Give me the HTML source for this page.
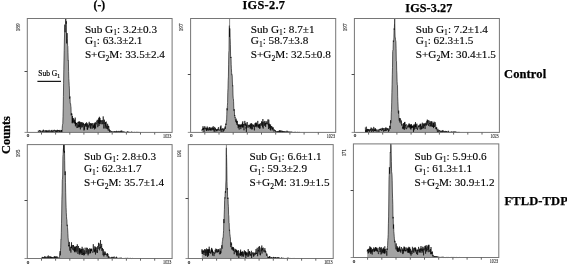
<!DOCTYPE html>
<html><head><meta charset="utf-8"><title>Cell cycle histograms</title>
<style>
html,body{margin:0;padding:0;background:#fff;}
body{width:567px;height:265px;overflow:hidden;}
svg{display:block;}
.s{font-family:"Liberation Serif","Times New Roman",serif;}
.t{stroke:#000;stroke-width:0.14px;}
.b{font-family:"Liberation Serif","Times New Roman",serif;font-weight:bold;stroke:#000;stroke-width:0.25px;}
</style></head><body>
<svg width="567" height="265" viewBox="0 0 567 265">
<rect width="567" height="265" fill="#fff"/>
<path d="M38.0 132.4 L38.0 131.4 L38.2 130.8 L38.4 131.4 L38.6 131.5 L38.8 132.0 L39.0 131.4 L39.2 130.2 L39.4 130.8 L39.6 130.3 L39.8 131.0 L40.0 130.9 L40.2 131.0 L40.4 132.2 L40.6 130.5 L40.8 130.8 L41.0 130.8 L41.2 132.2 L41.4 132.2 L41.6 132.0 L41.8 131.6 L42.0 130.9 L42.2 131.2 L42.4 130.7 L42.6 131.8 L42.8 130.9 L43.0 130.9 L43.2 131.8 L43.4 129.7 L43.6 130.7 L43.8 130.2 L44.0 131.7 L44.2 131.8 L44.4 131.5 L44.6 131.3 L44.8 130.6 L45.0 131.0 L45.2 131.6 L45.4 132.0 L45.6 131.7 L45.8 130.1 L46.0 131.9 L46.2 131.0 L46.4 130.8 L46.6 132.2 L46.8 131.2 L47.0 130.1 L47.2 132.2 L47.4 131.5 L47.6 131.3 L47.8 131.9 L48.0 130.8 L48.2 131.3 L48.4 132.2 L48.6 130.5 L48.8 130.6 L49.0 130.4 L49.2 129.9 L49.4 130.9 L49.6 131.1 L49.8 132.2 L50.0 130.7 L50.2 131.7 L50.4 131.6 L50.6 132.2 L50.8 132.0 L51.0 131.7 L51.2 130.1 L51.4 132.2 L51.6 132.2 L51.8 131.0 L52.0 129.9 L52.2 130.7 L52.4 132.2 L52.6 132.2 L52.8 130.9 L53.0 131.8 L53.2 132.2 L53.4 130.3 L53.6 130.2 L53.8 131.1 L54.0 131.0 L54.2 130.8 L54.4 129.8 L54.6 130.7 L54.8 130.7 L55.0 130.7 L55.2 132.2 L55.4 130.1 L55.6 130.4 L55.8 130.7 L56.0 132.2 L56.2 131.8 L56.4 130.5 L56.6 132.2 L56.8 131.4 L57.0 130.3 L57.2 132.2 L57.4 129.8 L57.6 130.7 L57.8 131.3 L58.0 130.9 L58.2 130.6 L58.4 131.1 L58.6 130.2 L58.8 131.8 L59.0 131.6 L59.2 130.3 L59.4 131.2 L59.6 132.0 L59.8 130.4 L60.0 129.9 L60.2 131.6 L60.4 132.2 L60.6 131.3 L60.8 131.3 L61.0 131.5 L61.2 130.0 L61.4 132.1 L61.6 130.1 L61.8 132.2 L62.0 131.7 L62.2 128.4 L62.4 125.7 L62.6 124.3 L62.8 123.6 L63.0 116.5 L63.2 108.9 L63.4 96.6 L63.6 83.3 L63.8 69.8 L64.0 59.0 L64.2 50.4 L64.4 40.0 L64.6 32.9 L64.8 24.6 L65.0 30.5 L65.2 32.3 L65.4 27.6 L65.6 18.5 L65.8 18.5 L66.0 20.3 L66.2 23.8 L66.4 21.3 L66.6 43.4 L66.8 37.9 L67.0 33.0 L67.2 33.7 L67.4 38.7 L67.6 45.6 L67.8 46.1 L68.0 52.7 L68.2 61.0 L68.4 60.7 L68.6 71.5 L68.8 78.5 L69.0 81.3 L69.2 85.4 L69.4 88.9 L69.6 98.6 L69.8 97.5 L70.0 96.5 L70.2 103.6 L70.4 103.5 L70.6 103.6 L70.8 106.2 L71.0 107.1 L71.2 115.3 L71.4 113.5 L71.6 114.6 L71.8 113.6 L72.0 113.7 L72.2 123.2 L72.4 116.0 L72.6 122.1 L72.8 117.9 L73.0 123.2 L73.2 120.0 L73.4 118.3 L73.6 121.7 L73.8 121.5 L74.0 120.6 L74.2 122.3 L74.4 123.0 L74.6 119.6 L74.8 120.9 L75.0 124.0 L75.2 117.6 L75.4 126.3 L75.6 122.0 L75.8 124.8 L76.0 124.1 L76.2 122.9 L76.4 124.0 L76.6 123.1 L76.8 127.9 L77.0 127.9 L77.2 123.3 L77.4 126.8 L77.6 126.9 L77.8 127.9 L78.0 122.0 L78.2 123.1 L78.4 121.6 L78.6 126.9 L78.8 124.9 L79.0 127.4 L79.2 123.3 L79.4 121.5 L79.6 127.0 L79.8 121.7 L80.0 123.0 L80.2 125.5 L80.4 129.4 L80.6 122.2 L80.8 125.4 L81.0 126.6 L81.2 124.5 L81.4 124.5 L81.6 122.2 L81.8 127.6 L82.0 123.1 L82.2 122.4 L82.4 122.5 L82.6 125.9 L82.8 127.1 L83.0 123.5 L83.2 125.4 L83.4 125.4 L83.6 122.8 L83.8 126.3 L84.0 130.5 L84.2 126.6 L84.4 129.6 L84.6 124.1 L84.8 125.1 L85.0 127.0 L85.2 125.8 L85.4 124.0 L85.6 125.6 L85.8 123.0 L86.0 125.8 L86.2 123.5 L86.4 122.6 L86.6 122.3 L86.8 127.1 L87.0 123.8 L87.2 129.5 L87.4 127.9 L87.6 129.7 L87.8 123.4 L88.0 128.2 L88.2 125.6 L88.4 126.0 L88.6 125.6 L88.8 126.8 L89.0 125.1 L89.2 121.8 L89.4 125.4 L89.6 124.4 L89.8 123.4 L90.0 125.9 L90.2 128.1 L90.4 126.6 L90.6 123.2 L90.8 128.9 L91.0 126.7 L91.2 123.3 L91.4 123.8 L91.6 125.4 L91.8 123.7 L92.0 125.0 L92.2 127.8 L92.4 128.6 L92.6 126.5 L92.8 123.0 L93.0 126.1 L93.2 126.8 L93.4 126.4 L93.6 128.0 L93.8 124.8 L94.0 127.0 L94.2 123.5 L94.4 129.4 L94.6 123.4 L94.8 125.4 L95.0 128.2 L95.2 122.2 L95.4 124.3 L95.6 128.5 L95.8 125.4 L96.0 122.8 L96.2 124.3 L96.4 121.5 L96.6 121.5 L96.8 121.6 L97.0 122.2 L97.2 119.9 L97.4 121.3 L97.6 121.7 L97.8 127.2 L98.0 120.6 L98.2 119.6 L98.4 123.0 L98.6 123.3 L98.8 117.9 L99.0 126.0 L99.2 121.1 L99.4 116.8 L99.6 124.1 L99.8 120.6 L100.0 117.9 L100.2 122.4 L100.4 120.9 L100.6 120.1 L100.8 124.1 L101.0 122.3 L101.2 121.5 L101.4 120.3 L101.6 122.2 L101.8 122.5 L102.0 124.3 L102.2 122.9 L102.4 120.1 L102.6 121.9 L102.8 124.0 L103.0 124.0 L103.2 116.4 L103.4 120.0 L103.6 121.2 L103.8 128.5 L104.0 121.7 L104.2 122.1 L104.4 119.7 L104.6 122.6 L104.8 123.9 L105.0 122.8 L105.2 128.4 L105.4 122.0 L105.6 123.8 L105.8 126.4 L106.0 122.3 L106.2 121.6 L106.4 128.6 L106.6 127.4 L106.8 125.8 L107.0 126.3 L107.2 127.7 L107.4 129.0 L107.6 123.8 L107.8 126.0 L108.0 130.0 L108.2 130.5 L108.4 125.8 L108.6 127.3 L108.8 126.3 L109.0 128.1 L109.2 130.7 L109.4 129.4 L109.6 132.4 L109.8 131.1 L110.0 130.5 L110.2 130.1 L110.4 131.6 L110.6 131.3 L110.8 131.0 L111.0 131.3 L111.2 131.2 L111.4 131.5 L111.6 131.9 L111.8 131.1 L112.0 131.6 L112.2 132.2 L112.4 132.1 L112.6 131.7 L112.8 131.7 L113.0 131.6 L113.2 131.7 L113.4 131.6 L113.6 131.8 L113.8 132.4 L114.0 131.4 L114.2 131.0 L114.4 131.4 L114.6 131.9 L114.8 131.4 L115.0 132.4 L115.2 132.4 L115.4 131.7 L115.6 132.4 L115.8 131.3 L116.0 132.4 L116.2 132.4 L116.4 132.4 L116.6 130.8 L116.8 132.0 L117.0 132.4 L117.2 132.3 L117.4 131.5 L117.6 131.5 L117.8 131.7 L118.0 131.0 L118.2 131.4 L118.4 131.9 L118.6 131.5 L118.8 130.9 L119.0 131.3 L119.2 131.3 L119.4 132.4 L119.6 132.0 L119.8 131.5 L120.0 132.1 L120.2 131.3 L120.4 131.6 L120.6 131.5 L120.8 132.1 L121.0 130.6 L121.2 131.3 L121.4 132.1 L121.6 131.9 L121.8 130.6 L122.0 132.2 L122.2 131.6 L122.4 131.5 L122.6 132.0 L122.8 132.4 L123.0 131.9 L123.2 131.9 L123.4 131.5 L123.6 131.7 L123.8 132.0 L124.0 131.7 L124.2 131.8 L124.4 132.0 L124.6 132.1 L124.8 132.2 L125.0 131.8 L125.2 132.4 L125.4 132.4 L125.6 132.1 L125.8 132.4 L126.0 132.3 L126.2 132.4 L126.4 132.4 L126.6 131.9 L126.8 131.9 L127.0 132.2 L127.2 132.2 L127.4 132.4 L127.6 131.4 L127.8 132.0 L128.0 131.7 L128.2 132.4 L128.4 132.2 L128.6 132.4 L128.8 131.9 L129.0 131.8 L129.2 132.4 L129.4 132.2 L129.6 132.0 L129.8 132.4 L130.0 132.4 L130.2 132.4 L130.4 132.4 L130.6 132.4 L130.8 132.2 L131.0 132.1 L131.2 132.0 L131.4 132.0 L131.6 131.7 L131.8 131.9 L132.0 132.4 L132.2 132.4 L132.4 132.4 L132.6 132.4 L132.8 132.3 L133.0 132.3 L133.2 132.1 L133.4 132.4 L133.6 132.4 L133.8 132.3 L134.0 132.3 L134.2 132.4 L134.4 132.3 L134.6 132.4 L134.8 132.1 L135.0 132.2 L135.2 132.3 L135.4 132.4 L135.6 132.4 L135.8 132.4 L136.0 132.4 L136.2 132.3 L136.4 132.4 L136.6 132.3 L136.8 132.3 L137.0 132.4 L137.2 132.4 L137.4 132.4 L137.6 132.3 L137.8 132.3 L138.0 132.4 L138.2 132.4 L138.4 132.4 L138.6 132.4 L138.8 132.3 L139.0 132.3 L139.2 132.4 L139.4 132.4 L139.6 132.4 L139.8 132.4 L139.8 132.4 Z" fill="#a3a3a3" stroke="none"/>
<path d="M38.0 131.4 L38.2 130.8 L38.4 131.4 L38.6 131.5 L38.8 132.0 L39.0 131.4 L39.2 130.2 L39.4 130.8 L39.6 130.3 L39.8 131.0 L40.0 130.9 L40.2 131.0 L40.4 132.2 L40.6 130.5 L40.8 130.8 L41.0 130.8 L41.2 132.2 L41.4 132.2 L41.6 132.0 L41.8 131.6 L42.0 130.9 L42.2 131.2 L42.4 130.7 L42.6 131.8 L42.8 130.9 L43.0 130.9 L43.2 131.8 L43.4 129.7 L43.6 130.7 L43.8 130.2 L44.0 131.7 L44.2 131.8 L44.4 131.5 L44.6 131.3 L44.8 130.6 L45.0 131.0 L45.2 131.6 L45.4 132.0 L45.6 131.7 L45.8 130.1 L46.0 131.9 L46.2 131.0 L46.4 130.8 L46.6 132.2 L46.8 131.2 L47.0 130.1 L47.2 132.2 L47.4 131.5 L47.6 131.3 L47.8 131.9 L48.0 130.8 L48.2 131.3 L48.4 132.2 L48.6 130.5 L48.8 130.6 L49.0 130.4 L49.2 129.9 L49.4 130.9 L49.6 131.1 L49.8 132.2 L50.0 130.7 L50.2 131.7 L50.4 131.6 L50.6 132.2 L50.8 132.0 L51.0 131.7 L51.2 130.1 L51.4 132.2 L51.6 132.2 L51.8 131.0 L52.0 129.9 L52.2 130.7 L52.4 132.2 L52.6 132.2 L52.8 130.9 L53.0 131.8 L53.2 132.2 L53.4 130.3 L53.6 130.2 L53.8 131.1 L54.0 131.0 L54.2 130.8 L54.4 129.8 L54.6 130.7 L54.8 130.7 L55.0 130.7 L55.2 132.2 L55.4 130.1 L55.6 130.4 L55.8 130.7 L56.0 132.2 L56.2 131.8 L56.4 130.5 L56.6 132.2 L56.8 131.4 L57.0 130.3 L57.2 132.2 L57.4 129.8 L57.6 130.7 L57.8 131.3 L58.0 130.9 L58.2 130.6 L58.4 131.1 L58.6 130.2 L58.8 131.8 L59.0 131.6 L59.2 130.3 L59.4 131.2 L59.6 132.0 L59.8 130.4 L60.0 129.9 L60.2 131.6 L60.4 132.2 L60.6 131.3 L60.8 131.3 L61.0 131.5 L61.2 130.0 L61.4 132.1 L61.6 130.1 L61.8 132.2 L62.0 131.7 L62.2 128.4 L62.4 125.7 L62.6 124.3 L62.8 123.6 L63.0 116.5 L63.2 108.9 L63.4 96.6 L63.6 83.3 L63.8 69.8 L64.0 59.0 L64.2 50.4 L64.4 40.0 L64.6 32.9 L64.8 24.6 L65.0 30.5 L65.2 32.3 L65.4 27.6 L65.6 18.5 L65.8 18.5 L66.0 20.3 L66.2 23.8 L66.4 21.3 L66.6 43.4 L66.8 37.9 L67.0 33.0 L67.2 33.7 L67.4 38.7 L67.6 45.6 L67.8 46.1 L68.0 52.7 L68.2 61.0 L68.4 60.7 L68.6 71.5 L68.8 78.5 L69.0 81.3 L69.2 85.4 L69.4 88.9 L69.6 98.6 L69.8 97.5 L70.0 96.5 L70.2 103.6 L70.4 103.5 L70.6 103.6 L70.8 106.2 L71.0 107.1 L71.2 115.3 L71.4 113.5 L71.6 114.6 L71.8 113.6 L72.0 113.7 L72.2 123.2 L72.4 116.0 L72.6 122.1 L72.8 117.9 L73.0 123.2 L73.2 120.0 L73.4 118.3 L73.6 121.7 L73.8 121.5 L74.0 120.6 L74.2 122.3 L74.4 123.0 L74.6 119.6 L74.8 120.9 L75.0 124.0 L75.2 117.6 L75.4 126.3 L75.6 122.0 L75.8 124.8 L76.0 124.1 L76.2 122.9 L76.4 124.0 L76.6 123.1 L76.8 127.9 L77.0 127.9 L77.2 123.3 L77.4 126.8 L77.6 126.9 L77.8 127.9 L78.0 122.0 L78.2 123.1 L78.4 121.6 L78.6 126.9 L78.8 124.9 L79.0 127.4 L79.2 123.3 L79.4 121.5 L79.6 127.0 L79.8 121.7 L80.0 123.0 L80.2 125.5 L80.4 129.4 L80.6 122.2 L80.8 125.4 L81.0 126.6 L81.2 124.5 L81.4 124.5 L81.6 122.2 L81.8 127.6 L82.0 123.1 L82.2 122.4 L82.4 122.5 L82.6 125.9 L82.8 127.1 L83.0 123.5 L83.2 125.4 L83.4 125.4 L83.6 122.8 L83.8 126.3 L84.0 130.5 L84.2 126.6 L84.4 129.6 L84.6 124.1 L84.8 125.1 L85.0 127.0 L85.2 125.8 L85.4 124.0 L85.6 125.6 L85.8 123.0 L86.0 125.8 L86.2 123.5 L86.4 122.6 L86.6 122.3 L86.8 127.1 L87.0 123.8 L87.2 129.5 L87.4 127.9 L87.6 129.7 L87.8 123.4 L88.0 128.2 L88.2 125.6 L88.4 126.0 L88.6 125.6 L88.8 126.8 L89.0 125.1 L89.2 121.8 L89.4 125.4 L89.6 124.4 L89.8 123.4 L90.0 125.9 L90.2 128.1 L90.4 126.6 L90.6 123.2 L90.8 128.9 L91.0 126.7 L91.2 123.3 L91.4 123.8 L91.6 125.4 L91.8 123.7 L92.0 125.0 L92.2 127.8 L92.4 128.6 L92.6 126.5 L92.8 123.0 L93.0 126.1 L93.2 126.8 L93.4 126.4 L93.6 128.0 L93.8 124.8 L94.0 127.0 L94.2 123.5 L94.4 129.4 L94.6 123.4 L94.8 125.4 L95.0 128.2 L95.2 122.2 L95.4 124.3 L95.6 128.5 L95.8 125.4 L96.0 122.8 L96.2 124.3 L96.4 121.5 L96.6 121.5 L96.8 121.6 L97.0 122.2 L97.2 119.9 L97.4 121.3 L97.6 121.7 L97.8 127.2 L98.0 120.6 L98.2 119.6 L98.4 123.0 L98.6 123.3 L98.8 117.9 L99.0 126.0 L99.2 121.1 L99.4 116.8 L99.6 124.1 L99.8 120.6 L100.0 117.9 L100.2 122.4 L100.4 120.9 L100.6 120.1 L100.8 124.1 L101.0 122.3 L101.2 121.5 L101.4 120.3 L101.6 122.2 L101.8 122.5 L102.0 124.3 L102.2 122.9 L102.4 120.1 L102.6 121.9 L102.8 124.0 L103.0 124.0 L103.2 116.4 L103.4 120.0 L103.6 121.2 L103.8 128.5 L104.0 121.7 L104.2 122.1 L104.4 119.7 L104.6 122.6 L104.8 123.9 L105.0 122.8 L105.2 128.4 L105.4 122.0 L105.6 123.8 L105.8 126.4 L106.0 122.3 L106.2 121.6 L106.4 128.6 L106.6 127.4 L106.8 125.8 L107.0 126.3 L107.2 127.7 L107.4 129.0 L107.6 123.8 L107.8 126.0 L108.0 130.0 L108.2 130.5 L108.4 125.8 L108.6 127.3 L108.8 126.3 L109.0 128.1 L109.2 130.7 L109.4 129.4 L109.6 132.4 L109.8 131.1 L110.0 130.5 L110.2 130.1 L110.4 131.6 L110.6 131.3 L110.8 131.0 L111.0 131.3 L111.2 131.2 L111.4 131.5 L111.6 131.9 L111.8 131.1 L112.0 131.6 L112.2 132.2 L112.4 132.1 L112.6 131.7 L112.8 131.7 L113.0 131.6 L113.2 131.7 L113.4 131.6 L113.6 131.8 L113.8 132.4 L114.0 131.4 L114.2 131.0 L114.4 131.4 L114.6 131.9 L114.8 131.4 L115.0 132.4 L115.2 132.4 L115.4 131.7 L115.6 132.4 L115.8 131.3 L116.0 132.4 L116.2 132.4 L116.4 132.4 L116.6 130.8 L116.8 132.0 L117.0 132.4 L117.2 132.3 L117.4 131.5 L117.6 131.5 L117.8 131.7 L118.0 131.0 L118.2 131.4 L118.4 131.9 L118.6 131.5 L118.8 130.9 L119.0 131.3 L119.2 131.3 L119.4 132.4 L119.6 132.0 L119.8 131.5 L120.0 132.1 L120.2 131.3 L120.4 131.6 L120.6 131.5 L120.8 132.1 L121.0 130.6 L121.2 131.3 L121.4 132.1 L121.6 131.9 L121.8 130.6 L122.0 132.2 L122.2 131.6 L122.4 131.5 L122.6 132.0 L122.8 132.4 L123.0 131.9 L123.2 131.9 L123.4 131.5 L123.6 131.7 L123.8 132.0 L124.0 131.7 L124.2 131.8 L124.4 132.0 L124.6 132.1 L124.8 132.2 L125.0 131.8 L125.2 132.4 L125.4 132.4 L125.6 132.1 L125.8 132.4 L126.0 132.3 L126.2 132.4 L126.4 132.4 L126.6 131.9 L126.8 131.9 L127.0 132.2 L127.2 132.2 L127.4 132.4 L127.6 131.4 L127.8 132.0 L128.0 131.7 L128.2 132.4 L128.4 132.2 L128.6 132.4 L128.8 131.9 L129.0 131.8 L129.2 132.4 L129.4 132.2 L129.6 132.0 L129.8 132.4 L130.0 132.4 L130.2 132.4 L130.4 132.4 L130.6 132.4 L130.8 132.2 L131.0 132.1 L131.2 132.0 L131.4 132.0 L131.6 131.7 L131.8 131.9 L132.0 132.4 L132.2 132.4 L132.4 132.4 L132.6 132.4 L132.8 132.3 L133.0 132.3 L133.2 132.1 L133.4 132.4 L133.6 132.4 L133.8 132.3 L134.0 132.3 L134.2 132.4 L134.4 132.3 L134.6 132.4 L134.8 132.1 L135.0 132.2 L135.2 132.3 L135.4 132.4 L135.6 132.4 L135.8 132.4 L136.0 132.4 L136.2 132.3 L136.4 132.4 L136.6 132.3 L136.8 132.3 L137.0 132.4 L137.2 132.4 L137.4 132.4 L137.6 132.3 L137.8 132.3 L138.0 132.4 L138.2 132.4 L138.4 132.4 L138.6 132.4 L138.8 132.3 L139.0 132.3 L139.2 132.4 L139.4 132.4 L139.6 132.4 L139.8 132.4" fill="none" stroke="#000" stroke-width="0.6" stroke-linejoin="round"/>
<rect x="27.3" y="18.5" width="144.79999999999998" height="113.9" fill="none" stroke="#767676" stroke-width="1"/>
<line x1="41.5" y1="132.4" x2="41.5" y2="134.6" stroke="#555" stroke-width="0.9"/>
<line x1="55.6" y1="132.4" x2="55.6" y2="134.6" stroke="#555" stroke-width="0.9"/>
<line x1="69.8" y1="132.4" x2="69.8" y2="134.6" stroke="#555" stroke-width="0.9"/>
<line x1="83.9" y1="132.4" x2="83.9" y2="134.6" stroke="#555" stroke-width="0.9"/>
<line x1="98.1" y1="132.4" x2="98.1" y2="134.6" stroke="#555" stroke-width="0.9"/>
<line x1="112.2" y1="132.4" x2="112.2" y2="134.6" stroke="#555" stroke-width="0.9"/>
<line x1="126.4" y1="132.4" x2="126.4" y2="134.6" stroke="#555" stroke-width="0.9"/>
<line x1="140.5" y1="132.4" x2="140.5" y2="134.6" stroke="#555" stroke-width="0.9"/>
<line x1="154.7" y1="132.4" x2="154.7" y2="134.6" stroke="#555" stroke-width="0.9"/>
<line x1="24.5" y1="71.5" x2="27.3" y2="71.5" stroke="#4a4a4a" stroke-width="1"/>
<line x1="24.5" y1="132.4" x2="27.3" y2="132.4" stroke="#767676" stroke-width="0.8"/>
<text x="26.7" y="137.4" font-size="5.0" fill="#222" stroke="#222" stroke-width="0.2" class="s">0</text>
<text x="163.1" y="137.6" font-size="5.8" fill="#222" stroke="#222" stroke-width="0.1" textLength="8.3" lengthAdjust="spacingAndGlyphs" class="s">1023</text>
<text transform="translate(19.8 31.4) rotate(-90)" font-size="6.8" fill="#2a2a2a" stroke="#2a2a2a" stroke-width="0.12" textLength="8.0" lengthAdjust="spacingAndGlyphs" class="s">189</text>
<text x="84.89999999999999" y="32.9" font-size="11.2" class="s t">Sub G<tspan font-size="7.6" dy="2.3">1</tspan><tspan dy="-2.3">: 3.2±0.3</tspan></text>
<text x="84.89999999999999" y="44.2" font-size="11.2" class="s t">G<tspan font-size="7.6" dy="2.7">1</tspan><tspan dy="-2.7">: 63.3±2.1</tspan></text>
<text x="84.89999999999999" y="58.2" font-size="11.2" class="s t">S+G<tspan font-size="7.6" dy="2.7">2</tspan><tspan dy="-2.7">M: 33.5±2.4</tspan></text>
<path d="M201.8 132.4 L201.8 130.9 L202.0 129.6 L202.2 130.1 L202.4 129.3 L202.6 128.7 L202.8 130.0 L203.0 126.2 L203.2 129.8 L203.4 127.9 L203.6 129.2 L203.8 127.9 L204.0 132.2 L204.2 130.4 L204.4 129.1 L204.6 128.6 L204.8 126.2 L205.0 129.0 L205.2 127.6 L205.4 128.3 L205.6 128.1 L205.8 128.7 L206.0 129.6 L206.2 128.7 L206.4 130.9 L206.6 127.8 L206.8 130.8 L207.0 129.1 L207.2 126.5 L207.4 129.7 L207.6 129.4 L207.8 127.8 L208.0 129.4 L208.2 130.5 L208.4 129.0 L208.6 128.6 L208.8 128.4 L209.0 130.5 L209.2 127.0 L209.4 127.1 L209.6 129.4 L209.8 129.0 L210.0 130.0 L210.2 127.4 L210.4 130.4 L210.6 128.5 L210.8 130.1 L211.0 130.4 L211.2 128.4 L211.4 127.6 L211.6 129.4 L211.8 130.3 L212.0 128.3 L212.2 129.5 L212.4 129.0 L212.6 127.3 L212.8 127.8 L213.0 130.1 L213.2 126.2 L213.4 129.4 L213.6 128.3 L213.8 130.3 L214.0 129.5 L214.2 131.8 L214.4 126.9 L214.6 127.5 L214.8 131.1 L215.0 131.5 L215.2 131.6 L215.4 127.8 L215.6 130.0 L215.8 129.5 L216.0 129.8 L216.2 129.6 L216.4 130.9 L216.6 129.4 L216.8 131.4 L217.0 129.5 L217.2 129.0 L217.4 128.8 L217.6 129.7 L217.8 130.7 L218.0 129.2 L218.2 130.1 L218.4 127.2 L218.6 128.3 L218.8 129.6 L219.0 130.1 L219.2 130.4 L219.4 130.7 L219.6 129.9 L219.8 129.0 L220.0 128.7 L220.2 128.6 L220.4 126.5 L220.6 130.4 L220.8 129.4 L221.0 125.5 L221.2 132.0 L221.4 130.1 L221.6 129.2 L221.8 129.2 L222.0 128.8 L222.2 129.7 L222.4 128.9 L222.6 129.3 L222.8 128.3 L223.0 132.0 L223.2 130.6 L223.4 129.4 L223.6 130.8 L223.8 130.8 L224.0 128.5 L224.2 130.3 L224.4 128.5 L224.6 128.4 L224.8 127.7 L225.0 126.6 L225.2 126.9 L225.4 128.9 L225.6 125.4 L225.8 123.6 L226.0 125.0 L226.2 123.3 L226.4 120.8 L226.6 121.0 L226.8 114.3 L227.0 108.3 L227.2 110.3 L227.4 105.4 L227.6 102.7 L227.8 92.3 L228.0 88.2 L228.2 80.2 L228.4 76.9 L228.6 64.2 L228.8 53.0 L229.0 50.4 L229.2 30.8 L229.4 25.6 L229.6 36.9 L229.8 28.4 L230.0 36.1 L230.2 38.5 L230.4 44.7 L230.6 56.3 L230.8 58.0 L231.0 56.9 L231.2 64.7 L231.4 68.7 L231.6 72.4 L231.8 75.1 L232.0 74.7 L232.2 75.5 L232.4 82.0 L232.6 86.2 L232.8 85.6 L233.0 95.0 L233.2 98.4 L233.4 98.7 L233.6 101.7 L233.8 108.1 L234.0 110.8 L234.2 109.2 L234.4 110.9 L234.6 116.0 L234.8 115.2 L235.0 117.5 L235.2 117.0 L235.4 119.8 L235.6 120.8 L235.8 121.8 L236.0 119.1 L236.2 118.7 L236.4 123.0 L236.6 120.7 L236.8 124.7 L237.0 123.2 L237.2 122.2 L237.4 120.9 L237.6 125.3 L237.8 124.7 L238.0 124.3 L238.2 128.1 L238.4 124.9 L238.6 126.5 L238.8 124.4 L239.0 127.7 L239.2 129.6 L239.4 125.5 L239.6 125.1 L239.8 126.9 L240.0 124.1 L240.2 126.5 L240.4 127.2 L240.6 125.0 L240.8 129.1 L241.0 127.3 L241.2 126.0 L241.4 124.2 L241.6 126.3 L241.8 125.4 L242.0 127.3 L242.2 125.4 L242.4 122.7 L242.6 127.4 L242.8 121.3 L243.0 127.3 L243.2 126.0 L243.4 125.7 L243.6 124.0 L243.8 128.6 L244.0 130.3 L244.2 124.9 L244.4 124.5 L244.6 124.9 L244.8 120.9 L245.0 125.7 L245.2 125.7 L245.4 124.3 L245.6 125.4 L245.8 122.9 L246.0 128.7 L246.2 127.0 L246.4 132.4 L246.6 124.6 L246.8 127.0 L247.0 124.4 L247.2 122.0 L247.4 126.3 L247.6 126.8 L247.8 127.3 L248.0 128.0 L248.2 127.6 L248.4 125.1 L248.6 126.3 L248.8 126.2 L249.0 126.7 L249.2 124.6 L249.4 125.4 L249.6 126.7 L249.8 125.1 L250.0 126.7 L250.2 128.6 L250.4 123.5 L250.6 125.4 L250.8 128.2 L251.0 124.2 L251.2 125.6 L251.4 129.4 L251.6 123.1 L251.8 125.6 L252.0 124.5 L252.2 125.8 L252.4 126.5 L252.6 129.3 L252.8 124.3 L253.0 126.1 L253.2 126.7 L253.4 125.4 L253.6 126.0 L253.8 124.8 L254.0 126.8 L254.2 126.2 L254.4 130.4 L254.6 126.9 L254.8 124.7 L255.0 123.3 L255.2 126.7 L255.4 126.2 L255.6 122.8 L255.8 126.6 L256.0 124.5 L256.2 122.5 L256.4 125.8 L256.6 123.4 L256.8 127.3 L257.0 125.5 L257.2 126.0 L257.4 125.6 L257.6 123.5 L257.8 120.9 L258.0 127.2 L258.2 126.9 L258.4 124.7 L258.6 127.8 L258.8 124.5 L259.0 124.3 L259.2 126.0 L259.4 124.3 L259.6 128.6 L259.8 123.7 L260.0 128.5 L260.2 126.7 L260.4 126.3 L260.6 125.9 L260.8 123.1 L261.0 124.8 L261.2 125.8 L261.4 123.7 L261.6 121.3 L261.8 124.7 L262.0 123.9 L262.2 121.9 L262.4 124.0 L262.6 127.3 L262.8 119.0 L263.0 119.5 L263.2 128.6 L263.4 124.2 L263.6 123.1 L263.8 121.7 L264.0 122.2 L264.2 124.2 L264.4 125.7 L264.6 123.1 L264.8 120.9 L265.0 125.4 L265.2 125.1 L265.4 122.8 L265.6 126.9 L265.8 123.0 L266.0 123.3 L266.2 121.2 L266.4 123.7 L266.6 124.2 L266.8 123.3 L267.0 122.6 L267.2 124.1 L267.4 122.7 L267.6 121.2 L267.8 120.4 L268.0 119.4 L268.2 124.9 L268.4 124.3 L268.6 129.0 L268.8 119.7 L269.0 125.8 L269.2 124.6 L269.4 123.7 L269.6 128.1 L269.8 124.5 L270.0 125.9 L270.2 129.8 L270.4 125.9 L270.6 124.5 L270.8 130.5 L271.0 126.0 L271.2 127.2 L271.4 127.0 L271.6 127.3 L271.8 126.1 L272.0 128.8 L272.2 127.2 L272.4 129.4 L272.6 127.9 L272.8 130.4 L273.0 129.6 L273.2 127.3 L273.4 129.2 L273.6 130.2 L273.8 131.5 L274.0 131.2 L274.2 130.2 L274.4 129.5 L274.6 130.3 L274.8 130.3 L275.0 131.0 L275.2 130.0 L275.4 131.6 L275.6 131.9 L275.8 131.0 L276.0 131.6 L276.2 131.8 L276.4 132.0 L276.6 131.8 L276.8 131.2 L277.0 131.4 L277.2 132.4 L277.4 131.4 L277.6 131.5 L277.8 132.4 L278.0 131.2 L278.2 131.9 L278.4 131.9 L278.6 131.2 L278.8 130.8 L279.0 132.2 L279.2 131.4 L279.4 132.3 L279.6 130.2 L279.8 132.1 L280.0 131.0 L280.2 132.2 L280.4 131.2 L280.6 130.4 L280.8 132.4 L281.0 132.1 L281.2 131.5 L281.4 131.9 L281.6 132.2 L281.8 130.5 L282.0 131.8 L282.2 132.4 L282.4 131.3 L282.6 132.4 L282.8 131.2 L283.0 132.2 L283.2 131.8 L283.4 131.1 L283.6 131.8 L283.8 132.4 L284.0 132.4 L284.2 131.2 L284.4 131.5 L284.6 132.4 L284.8 131.4 L285.0 131.6 L285.2 131.6 L285.4 132.4 L285.6 132.1 L285.8 131.5 L286.0 131.6 L286.2 131.5 L286.4 132.4 L286.6 131.9 L286.8 131.7 L287.0 130.7 L287.2 132.4 L287.4 132.2 L287.6 132.0 L287.8 131.6 L288.0 132.2 L288.2 131.5 L288.4 132.4 L288.6 131.9 L288.8 132.3 L289.0 132.0 L289.2 132.4 L289.4 132.4 L289.6 131.6 L289.8 132.0 L290.0 132.3 L290.2 132.0 L290.4 131.7 L290.6 132.4 L290.8 132.2 L291.0 131.9 L291.2 131.9 L291.4 132.3 L291.6 132.4 L291.8 131.7 L292.0 132.0 L292.2 132.2 L292.4 132.3 L292.6 132.1 L292.8 132.3 L293.0 132.4 L293.2 132.4 L293.4 132.4 L293.6 132.4 L293.8 132.4 L294.0 132.0 L294.2 132.4 L294.4 132.0 L294.6 132.4 L294.8 132.1 L295.0 131.8 L295.2 132.2 L295.4 132.4 L295.6 132.3 L295.8 132.2 L296.0 132.4 L296.2 132.4 L296.4 132.2 L296.6 132.4 L296.8 132.3 L297.0 132.1 L297.2 132.1 L297.4 132.1 L297.6 132.2 L297.8 132.4 L298.0 132.3 L298.2 132.4 L298.4 132.4 L298.6 132.4 L298.8 132.4 L299.0 132.4 L299.2 132.4 L299.4 132.4 L299.6 132.4 L299.8 132.3 L300.0 132.4 L300.0 132.4 Z" fill="#a3a3a3" stroke="none"/>
<path d="M201.8 130.9 L202.0 129.6 L202.2 130.1 L202.4 129.3 L202.6 128.7 L202.8 130.0 L203.0 126.2 L203.2 129.8 L203.4 127.9 L203.6 129.2 L203.8 127.9 L204.0 132.2 L204.2 130.4 L204.4 129.1 L204.6 128.6 L204.8 126.2 L205.0 129.0 L205.2 127.6 L205.4 128.3 L205.6 128.1 L205.8 128.7 L206.0 129.6 L206.2 128.7 L206.4 130.9 L206.6 127.8 L206.8 130.8 L207.0 129.1 L207.2 126.5 L207.4 129.7 L207.6 129.4 L207.8 127.8 L208.0 129.4 L208.2 130.5 L208.4 129.0 L208.6 128.6 L208.8 128.4 L209.0 130.5 L209.2 127.0 L209.4 127.1 L209.6 129.4 L209.8 129.0 L210.0 130.0 L210.2 127.4 L210.4 130.4 L210.6 128.5 L210.8 130.1 L211.0 130.4 L211.2 128.4 L211.4 127.6 L211.6 129.4 L211.8 130.3 L212.0 128.3 L212.2 129.5 L212.4 129.0 L212.6 127.3 L212.8 127.8 L213.0 130.1 L213.2 126.2 L213.4 129.4 L213.6 128.3 L213.8 130.3 L214.0 129.5 L214.2 131.8 L214.4 126.9 L214.6 127.5 L214.8 131.1 L215.0 131.5 L215.2 131.6 L215.4 127.8 L215.6 130.0 L215.8 129.5 L216.0 129.8 L216.2 129.6 L216.4 130.9 L216.6 129.4 L216.8 131.4 L217.0 129.5 L217.2 129.0 L217.4 128.8 L217.6 129.7 L217.8 130.7 L218.0 129.2 L218.2 130.1 L218.4 127.2 L218.6 128.3 L218.8 129.6 L219.0 130.1 L219.2 130.4 L219.4 130.7 L219.6 129.9 L219.8 129.0 L220.0 128.7 L220.2 128.6 L220.4 126.5 L220.6 130.4 L220.8 129.4 L221.0 125.5 L221.2 132.0 L221.4 130.1 L221.6 129.2 L221.8 129.2 L222.0 128.8 L222.2 129.7 L222.4 128.9 L222.6 129.3 L222.8 128.3 L223.0 132.0 L223.2 130.6 L223.4 129.4 L223.6 130.8 L223.8 130.8 L224.0 128.5 L224.2 130.3 L224.4 128.5 L224.6 128.4 L224.8 127.7 L225.0 126.6 L225.2 126.9 L225.4 128.9 L225.6 125.4 L225.8 123.6 L226.0 125.0 L226.2 123.3 L226.4 120.8 L226.6 121.0 L226.8 114.3 L227.0 108.3 L227.2 110.3 L227.4 105.4 L227.6 102.7 L227.8 92.3 L228.0 88.2 L228.2 80.2 L228.4 76.9 L228.6 64.2 L228.8 53.0 L229.0 50.4 L229.2 30.8 L229.4 25.6 L229.6 36.9 L229.8 28.4 L230.0 36.1 L230.2 38.5 L230.4 44.7 L230.6 56.3 L230.8 58.0 L231.0 56.9 L231.2 64.7 L231.4 68.7 L231.6 72.4 L231.8 75.1 L232.0 74.7 L232.2 75.5 L232.4 82.0 L232.6 86.2 L232.8 85.6 L233.0 95.0 L233.2 98.4 L233.4 98.7 L233.6 101.7 L233.8 108.1 L234.0 110.8 L234.2 109.2 L234.4 110.9 L234.6 116.0 L234.8 115.2 L235.0 117.5 L235.2 117.0 L235.4 119.8 L235.6 120.8 L235.8 121.8 L236.0 119.1 L236.2 118.7 L236.4 123.0 L236.6 120.7 L236.8 124.7 L237.0 123.2 L237.2 122.2 L237.4 120.9 L237.6 125.3 L237.8 124.7 L238.0 124.3 L238.2 128.1 L238.4 124.9 L238.6 126.5 L238.8 124.4 L239.0 127.7 L239.2 129.6 L239.4 125.5 L239.6 125.1 L239.8 126.9 L240.0 124.1 L240.2 126.5 L240.4 127.2 L240.6 125.0 L240.8 129.1 L241.0 127.3 L241.2 126.0 L241.4 124.2 L241.6 126.3 L241.8 125.4 L242.0 127.3 L242.2 125.4 L242.4 122.7 L242.6 127.4 L242.8 121.3 L243.0 127.3 L243.2 126.0 L243.4 125.7 L243.6 124.0 L243.8 128.6 L244.0 130.3 L244.2 124.9 L244.4 124.5 L244.6 124.9 L244.8 120.9 L245.0 125.7 L245.2 125.7 L245.4 124.3 L245.6 125.4 L245.8 122.9 L246.0 128.7 L246.2 127.0 L246.4 132.4 L246.6 124.6 L246.8 127.0 L247.0 124.4 L247.2 122.0 L247.4 126.3 L247.6 126.8 L247.8 127.3 L248.0 128.0 L248.2 127.6 L248.4 125.1 L248.6 126.3 L248.8 126.2 L249.0 126.7 L249.2 124.6 L249.4 125.4 L249.6 126.7 L249.8 125.1 L250.0 126.7 L250.2 128.6 L250.4 123.5 L250.6 125.4 L250.8 128.2 L251.0 124.2 L251.2 125.6 L251.4 129.4 L251.6 123.1 L251.8 125.6 L252.0 124.5 L252.2 125.8 L252.4 126.5 L252.6 129.3 L252.8 124.3 L253.0 126.1 L253.2 126.7 L253.4 125.4 L253.6 126.0 L253.8 124.8 L254.0 126.8 L254.2 126.2 L254.4 130.4 L254.6 126.9 L254.8 124.7 L255.0 123.3 L255.2 126.7 L255.4 126.2 L255.6 122.8 L255.8 126.6 L256.0 124.5 L256.2 122.5 L256.4 125.8 L256.6 123.4 L256.8 127.3 L257.0 125.5 L257.2 126.0 L257.4 125.6 L257.6 123.5 L257.8 120.9 L258.0 127.2 L258.2 126.9 L258.4 124.7 L258.6 127.8 L258.8 124.5 L259.0 124.3 L259.2 126.0 L259.4 124.3 L259.6 128.6 L259.8 123.7 L260.0 128.5 L260.2 126.7 L260.4 126.3 L260.6 125.9 L260.8 123.1 L261.0 124.8 L261.2 125.8 L261.4 123.7 L261.6 121.3 L261.8 124.7 L262.0 123.9 L262.2 121.9 L262.4 124.0 L262.6 127.3 L262.8 119.0 L263.0 119.5 L263.2 128.6 L263.4 124.2 L263.6 123.1 L263.8 121.7 L264.0 122.2 L264.2 124.2 L264.4 125.7 L264.6 123.1 L264.8 120.9 L265.0 125.4 L265.2 125.1 L265.4 122.8 L265.6 126.9 L265.8 123.0 L266.0 123.3 L266.2 121.2 L266.4 123.7 L266.6 124.2 L266.8 123.3 L267.0 122.6 L267.2 124.1 L267.4 122.7 L267.6 121.2 L267.8 120.4 L268.0 119.4 L268.2 124.9 L268.4 124.3 L268.6 129.0 L268.8 119.7 L269.0 125.8 L269.2 124.6 L269.4 123.7 L269.6 128.1 L269.8 124.5 L270.0 125.9 L270.2 129.8 L270.4 125.9 L270.6 124.5 L270.8 130.5 L271.0 126.0 L271.2 127.2 L271.4 127.0 L271.6 127.3 L271.8 126.1 L272.0 128.8 L272.2 127.2 L272.4 129.4 L272.6 127.9 L272.8 130.4 L273.0 129.6 L273.2 127.3 L273.4 129.2 L273.6 130.2 L273.8 131.5 L274.0 131.2 L274.2 130.2 L274.4 129.5 L274.6 130.3 L274.8 130.3 L275.0 131.0 L275.2 130.0 L275.4 131.6 L275.6 131.9 L275.8 131.0 L276.0 131.6 L276.2 131.8 L276.4 132.0 L276.6 131.8 L276.8 131.2 L277.0 131.4 L277.2 132.4 L277.4 131.4 L277.6 131.5 L277.8 132.4 L278.0 131.2 L278.2 131.9 L278.4 131.9 L278.6 131.2 L278.8 130.8 L279.0 132.2 L279.2 131.4 L279.4 132.3 L279.6 130.2 L279.8 132.1 L280.0 131.0 L280.2 132.2 L280.4 131.2 L280.6 130.4 L280.8 132.4 L281.0 132.1 L281.2 131.5 L281.4 131.9 L281.6 132.2 L281.8 130.5 L282.0 131.8 L282.2 132.4 L282.4 131.3 L282.6 132.4 L282.8 131.2 L283.0 132.2 L283.2 131.8 L283.4 131.1 L283.6 131.8 L283.8 132.4 L284.0 132.4 L284.2 131.2 L284.4 131.5 L284.6 132.4 L284.8 131.4 L285.0 131.6 L285.2 131.6 L285.4 132.4 L285.6 132.1 L285.8 131.5 L286.0 131.6 L286.2 131.5 L286.4 132.4 L286.6 131.9 L286.8 131.7 L287.0 130.7 L287.2 132.4 L287.4 132.2 L287.6 132.0 L287.8 131.6 L288.0 132.2 L288.2 131.5 L288.4 132.4 L288.6 131.9 L288.8 132.3 L289.0 132.0 L289.2 132.4 L289.4 132.4 L289.6 131.6 L289.8 132.0 L290.0 132.3 L290.2 132.0 L290.4 131.7 L290.6 132.4 L290.8 132.2 L291.0 131.9 L291.2 131.9 L291.4 132.3 L291.6 132.4 L291.8 131.7 L292.0 132.0 L292.2 132.2 L292.4 132.3 L292.6 132.1 L292.8 132.3 L293.0 132.4 L293.2 132.4 L293.4 132.4 L293.6 132.4 L293.8 132.4 L294.0 132.0 L294.2 132.4 L294.4 132.0 L294.6 132.4 L294.8 132.1 L295.0 131.8 L295.2 132.2 L295.4 132.4 L295.6 132.3 L295.8 132.2 L296.0 132.4 L296.2 132.4 L296.4 132.2 L296.6 132.4 L296.8 132.3 L297.0 132.1 L297.2 132.1 L297.4 132.1 L297.6 132.2 L297.8 132.4 L298.0 132.3 L298.2 132.4 L298.4 132.4 L298.6 132.4 L298.8 132.4 L299.0 132.4 L299.2 132.4 L299.4 132.4 L299.6 132.4 L299.8 132.3 L300.0 132.4" fill="none" stroke="#000" stroke-width="0.6" stroke-linejoin="round"/>
<line x1="229.6" y1="18.5" x2="229.6" y2="27.5" stroke="#555" stroke-width="0.7"/>
<rect x="190.6" y="18.5" width="145.1" height="113.9" fill="none" stroke="#767676" stroke-width="1"/>
<line x1="204.8" y1="132.4" x2="204.8" y2="134.6" stroke="#555" stroke-width="0.9"/>
<line x1="219.0" y1="132.4" x2="219.0" y2="134.6" stroke="#555" stroke-width="0.9"/>
<line x1="233.2" y1="132.4" x2="233.2" y2="134.6" stroke="#555" stroke-width="0.9"/>
<line x1="247.3" y1="132.4" x2="247.3" y2="134.6" stroke="#555" stroke-width="0.9"/>
<line x1="261.5" y1="132.4" x2="261.5" y2="134.6" stroke="#555" stroke-width="0.9"/>
<line x1="275.7" y1="132.4" x2="275.7" y2="134.6" stroke="#555" stroke-width="0.9"/>
<line x1="289.9" y1="132.4" x2="289.9" y2="134.6" stroke="#555" stroke-width="0.9"/>
<line x1="304.1" y1="132.4" x2="304.1" y2="134.6" stroke="#555" stroke-width="0.9"/>
<line x1="318.3" y1="132.4" x2="318.3" y2="134.6" stroke="#555" stroke-width="0.9"/>
<line x1="187.79999999999998" y1="74.5" x2="190.6" y2="74.5" stroke="#4a4a4a" stroke-width="1"/>
<line x1="187.79999999999998" y1="132.4" x2="190.6" y2="132.4" stroke="#767676" stroke-width="0.8"/>
<text x="190.0" y="137.4" font-size="5.0" fill="#222" stroke="#222" stroke-width="0.2" class="s">0</text>
<text x="326.7" y="137.6" font-size="5.8" fill="#222" stroke="#222" stroke-width="0.1" textLength="8.3" lengthAdjust="spacingAndGlyphs" class="s">1023</text>
<text transform="translate(183.1 31.4) rotate(-90)" font-size="6.8" fill="#2a2a2a" stroke="#2a2a2a" stroke-width="0.12" textLength="8.0" lengthAdjust="spacingAndGlyphs" class="s">197</text>
<text x="250.8" y="32.9" font-size="11.2" class="s t">Sub G<tspan font-size="7.6" dy="2.3">1</tspan><tspan dy="-2.3">: 8.7±1</tspan></text>
<text x="250.8" y="44.2" font-size="11.2" class="s t">G<tspan font-size="7.6" dy="2.7">1</tspan><tspan dy="-2.7">: 58.7±3.8</tspan></text>
<text x="250.8" y="58.2" font-size="11.2" class="s t">S+G<tspan font-size="7.6" dy="2.7">2</tspan><tspan dy="-2.7">M: 32.5±0.8</tspan></text>
<path d="M365.3 132.4 L365.3 127.4 L365.5 132.2 L365.7 130.3 L365.9 132.2 L366.1 128.8 L366.3 126.7 L366.5 132.2 L366.7 129.8 L366.9 129.4 L367.1 130.4 L367.3 129.3 L367.5 132.2 L367.7 128.9 L367.9 129.5 L368.1 130.0 L368.3 130.7 L368.5 129.2 L368.7 130.6 L368.9 129.7 L369.1 130.6 L369.3 132.2 L369.5 130.0 L369.7 129.7 L369.9 129.1 L370.1 131.1 L370.3 130.0 L370.5 129.2 L370.7 129.8 L370.9 128.5 L371.1 127.5 L371.3 131.1 L371.5 132.2 L371.7 128.9 L371.9 128.1 L372.1 128.9 L372.3 129.0 L372.5 130.8 L372.7 130.9 L372.9 128.9 L373.1 131.1 L373.3 132.2 L373.5 131.2 L373.7 126.9 L373.9 127.6 L374.1 130.9 L374.3 130.9 L374.5 129.7 L374.7 130.9 L374.9 128.4 L375.1 130.1 L375.3 131.3 L375.5 128.4 L375.7 130.7 L375.9 129.7 L376.1 130.0 L376.3 130.4 L376.5 129.6 L376.7 130.9 L376.9 132.2 L377.1 132.2 L377.3 131.6 L377.5 130.9 L377.7 130.0 L377.9 129.9 L378.1 129.3 L378.3 129.9 L378.5 131.0 L378.7 130.9 L378.9 132.2 L379.1 130.2 L379.3 129.4 L379.5 129.3 L379.7 130.2 L379.9 130.2 L380.1 128.8 L380.3 130.0 L380.5 129.1 L380.7 129.3 L380.9 129.7 L381.1 128.4 L381.3 130.7 L381.5 130.4 L381.7 131.0 L381.9 131.0 L382.1 128.1 L382.3 127.8 L382.5 130.0 L382.7 129.3 L382.9 128.5 L383.1 129.0 L383.3 128.5 L383.5 131.6 L383.7 130.8 L383.9 129.4 L384.1 128.2 L384.3 129.9 L384.5 131.1 L384.7 130.4 L384.9 130.8 L385.1 131.1 L385.3 128.1 L385.5 130.8 L385.7 130.0 L385.9 127.3 L386.1 128.5 L386.3 129.6 L386.5 130.8 L386.7 129.5 L386.9 128.0 L387.1 129.2 L387.3 128.4 L387.5 129.9 L387.7 129.4 L387.9 130.2 L388.1 129.5 L388.3 128.4 L388.5 131.8 L388.7 130.1 L388.9 129.7 L389.1 130.7 L389.3 130.4 L389.5 129.0 L389.7 125.8 L389.9 126.7 L390.1 126.1 L390.3 128.9 L390.5 120.3 L390.7 123.3 L390.9 122.5 L391.1 119.9 L391.3 112.5 L391.5 109.8 L391.7 102.2 L391.9 92.4 L392.1 84.3 L392.3 74.8 L392.5 67.3 L392.7 51.5 L392.9 50.1 L393.1 49.7 L393.3 40.6 L393.5 41.8 L393.7 41.8 L393.9 37.9 L394.1 28.5 L394.3 29.7 L394.5 24.1 L394.7 18.5 L394.9 28.9 L395.1 37.6 L395.3 37.6 L395.5 39.7 L395.7 40.6 L395.9 41.7 L396.1 48.7 L396.3 60.9 L396.5 61.2 L396.7 70.2 L396.9 74.0 L397.1 81.6 L397.3 84.8 L397.5 85.2 L397.7 96.8 L397.9 101.3 L398.1 106.2 L398.3 112.7 L398.5 113.5 L398.7 110.6 L398.9 114.8 L399.1 119.5 L399.3 120.7 L399.5 118.0 L399.7 122.4 L399.9 122.0 L400.1 120.9 L400.3 119.2 L400.5 118.4 L400.7 120.9 L400.9 123.3 L401.1 123.7 L401.3 120.5 L401.5 121.5 L401.7 125.5 L401.9 124.0 L402.1 124.5 L402.3 125.2 L402.5 126.5 L402.7 128.4 L402.9 126.9 L403.1 129.1 L403.3 123.4 L403.5 124.8 L403.7 128.4 L403.9 123.1 L404.1 124.2 L404.3 129.9 L404.5 122.3 L404.7 124.4 L404.9 121.9 L405.1 128.5 L405.3 125.0 L405.5 125.3 L405.7 125.7 L405.9 125.8 L406.1 124.0 L406.3 129.2 L406.5 128.7 L406.7 129.0 L406.9 127.3 L407.1 127.4 L407.3 125.5 L407.5 125.7 L407.7 126.2 L407.9 127.6 L408.1 127.2 L408.3 124.5 L408.5 124.8 L408.7 126.2 L408.9 127.0 L409.1 123.4 L409.3 127.6 L409.5 125.2 L409.7 124.2 L409.9 127.0 L410.1 124.9 L410.3 128.7 L410.5 124.5 L410.7 126.1 L410.9 129.6 L411.1 125.3 L411.3 128.3 L411.5 124.1 L411.7 127.9 L411.9 126.9 L412.1 126.1 L412.3 127.3 L412.5 126.2 L412.7 127.8 L412.9 125.4 L413.1 126.7 L413.3 126.3 L413.5 132.0 L413.7 124.6 L413.9 126.7 L414.1 130.2 L414.3 126.6 L414.5 125.9 L414.7 124.7 L414.9 128.8 L415.1 123.8 L415.3 127.0 L415.5 122.1 L415.7 127.0 L415.9 125.4 L416.1 127.4 L416.3 128.8 L416.5 124.6 L416.7 124.9 L416.9 123.7 L417.1 125.0 L417.3 127.7 L417.5 129.8 L417.7 127.8 L417.9 127.9 L418.1 128.1 L418.3 125.4 L418.5 125.9 L418.7 127.1 L418.9 126.2 L419.1 126.8 L419.3 126.1 L419.5 125.0 L419.7 124.6 L419.9 127.8 L420.1 129.4 L420.3 123.7 L420.5 126.2 L420.7 124.3 L420.9 129.6 L421.1 127.0 L421.3 126.2 L421.5 129.1 L421.7 127.2 L421.9 124.6 L422.1 123.8 L422.3 122.7 L422.5 127.6 L422.7 128.7 L422.9 124.6 L423.1 123.7 L423.3 125.1 L423.5 128.2 L423.7 123.7 L423.9 123.6 L424.1 124.1 L424.3 126.2 L424.5 124.4 L424.7 123.3 L424.9 126.2 L425.1 128.9 L425.3 124.1 L425.5 123.7 L425.7 124.6 L425.9 122.7 L426.1 125.8 L426.3 124.7 L426.5 125.1 L426.7 123.1 L426.9 120.8 L427.1 124.8 L427.3 119.6 L427.5 120.7 L427.7 122.3 L427.9 122.7 L428.1 120.0 L428.3 124.2 L428.5 124.0 L428.7 126.0 L428.9 122.6 L429.1 120.6 L429.3 122.4 L429.5 122.7 L429.7 124.0 L429.9 123.2 L430.1 126.7 L430.3 121.3 L430.5 124.5 L430.7 126.0 L430.9 125.3 L431.1 125.4 L431.3 121.7 L431.5 121.3 L431.7 126.6 L431.9 121.6 L432.1 121.6 L432.3 124.9 L432.5 126.9 L432.7 125.2 L432.9 125.0 L433.1 122.8 L433.3 124.4 L433.5 128.1 L433.7 123.1 L433.9 127.0 L434.1 121.7 L434.3 126.6 L434.5 125.8 L434.7 126.4 L434.9 125.9 L435.1 122.2 L435.3 123.4 L435.5 124.2 L435.7 125.1 L435.9 129.1 L436.1 127.3 L436.3 127.8 L436.5 129.2 L436.7 127.3 L436.9 130.0 L437.1 130.5 L437.3 131.3 L437.5 132.4 L437.7 129.5 L437.9 128.8 L438.1 130.3 L438.3 131.7 L438.5 132.4 L438.7 130.7 L438.9 129.9 L439.1 130.9 L439.3 130.5 L439.5 130.2 L439.7 130.5 L439.9 131.8 L440.1 130.6 L440.3 130.9 L440.5 132.4 L440.7 131.8 L440.9 132.4 L441.1 131.6 L441.3 131.1 L441.5 132.3 L441.7 132.4 L441.9 130.7 L442.1 131.3 L442.3 130.6 L442.5 132.4 L442.7 130.9 L442.9 130.3 L443.1 130.3 L443.3 131.8 L443.5 131.5 L443.7 131.8 L443.9 131.1 L444.1 131.1 L444.3 131.7 L444.5 132.4 L444.7 131.4 L444.9 132.1 L445.1 131.5 L445.3 131.7 L445.5 130.9 L445.7 131.2 L445.9 132.2 L446.1 131.7 L446.3 131.0 L446.5 132.2 L446.7 131.8 L446.9 131.4 L447.1 131.4 L447.3 131.7 L447.5 132.4 L447.7 132.4 L447.9 131.9 L448.1 131.8 L448.3 130.8 L448.5 132.4 L448.7 131.5 L448.9 131.7 L449.1 132.4 L449.3 132.4 L449.5 132.0 L449.7 132.3 L449.9 132.2 L450.1 131.9 L450.3 132.4 L450.5 131.9 L450.7 132.4 L450.9 132.4 L451.1 131.9 L451.3 132.4 L451.5 132.0 L451.7 131.5 L451.9 132.1 L452.1 132.2 L452.3 131.9 L452.5 132.3 L452.7 131.8 L452.9 132.4 L453.1 132.0 L453.3 132.4 L453.5 132.4 L453.7 131.6 L453.9 132.4 L454.1 131.6 L454.3 132.0 L454.5 131.8 L454.7 132.4 L454.9 131.9 L455.1 131.8 L455.3 132.3 L455.5 132.3 L455.7 131.6 L455.9 132.2 L456.1 132.4 L456.3 132.4 L456.5 132.2 L456.7 132.2 L456.9 132.3 L457.1 131.9 L457.3 132.4 L457.5 132.2 L457.7 132.0 L457.9 132.4 L458.1 132.1 L458.3 132.0 L458.5 132.4 L458.7 132.4 L458.9 132.4 L459.1 132.4 L459.3 132.3 L459.5 132.4 L459.7 132.3 L459.9 132.2 L459.9 132.4 Z" fill="#a3a3a3" stroke="none"/>
<path d="M365.3 127.4 L365.5 132.2 L365.7 130.3 L365.9 132.2 L366.1 128.8 L366.3 126.7 L366.5 132.2 L366.7 129.8 L366.9 129.4 L367.1 130.4 L367.3 129.3 L367.5 132.2 L367.7 128.9 L367.9 129.5 L368.1 130.0 L368.3 130.7 L368.5 129.2 L368.7 130.6 L368.9 129.7 L369.1 130.6 L369.3 132.2 L369.5 130.0 L369.7 129.7 L369.9 129.1 L370.1 131.1 L370.3 130.0 L370.5 129.2 L370.7 129.8 L370.9 128.5 L371.1 127.5 L371.3 131.1 L371.5 132.2 L371.7 128.9 L371.9 128.1 L372.1 128.9 L372.3 129.0 L372.5 130.8 L372.7 130.9 L372.9 128.9 L373.1 131.1 L373.3 132.2 L373.5 131.2 L373.7 126.9 L373.9 127.6 L374.1 130.9 L374.3 130.9 L374.5 129.7 L374.7 130.9 L374.9 128.4 L375.1 130.1 L375.3 131.3 L375.5 128.4 L375.7 130.7 L375.9 129.7 L376.1 130.0 L376.3 130.4 L376.5 129.6 L376.7 130.9 L376.9 132.2 L377.1 132.2 L377.3 131.6 L377.5 130.9 L377.7 130.0 L377.9 129.9 L378.1 129.3 L378.3 129.9 L378.5 131.0 L378.7 130.9 L378.9 132.2 L379.1 130.2 L379.3 129.4 L379.5 129.3 L379.7 130.2 L379.9 130.2 L380.1 128.8 L380.3 130.0 L380.5 129.1 L380.7 129.3 L380.9 129.7 L381.1 128.4 L381.3 130.7 L381.5 130.4 L381.7 131.0 L381.9 131.0 L382.1 128.1 L382.3 127.8 L382.5 130.0 L382.7 129.3 L382.9 128.5 L383.1 129.0 L383.3 128.5 L383.5 131.6 L383.7 130.8 L383.9 129.4 L384.1 128.2 L384.3 129.9 L384.5 131.1 L384.7 130.4 L384.9 130.8 L385.1 131.1 L385.3 128.1 L385.5 130.8 L385.7 130.0 L385.9 127.3 L386.1 128.5 L386.3 129.6 L386.5 130.8 L386.7 129.5 L386.9 128.0 L387.1 129.2 L387.3 128.4 L387.5 129.9 L387.7 129.4 L387.9 130.2 L388.1 129.5 L388.3 128.4 L388.5 131.8 L388.7 130.1 L388.9 129.7 L389.1 130.7 L389.3 130.4 L389.5 129.0 L389.7 125.8 L389.9 126.7 L390.1 126.1 L390.3 128.9 L390.5 120.3 L390.7 123.3 L390.9 122.5 L391.1 119.9 L391.3 112.5 L391.5 109.8 L391.7 102.2 L391.9 92.4 L392.1 84.3 L392.3 74.8 L392.5 67.3 L392.7 51.5 L392.9 50.1 L393.1 49.7 L393.3 40.6 L393.5 41.8 L393.7 41.8 L393.9 37.9 L394.1 28.5 L394.3 29.7 L394.5 24.1 L394.7 18.5 L394.9 28.9 L395.1 37.6 L395.3 37.6 L395.5 39.7 L395.7 40.6 L395.9 41.7 L396.1 48.7 L396.3 60.9 L396.5 61.2 L396.7 70.2 L396.9 74.0 L397.1 81.6 L397.3 84.8 L397.5 85.2 L397.7 96.8 L397.9 101.3 L398.1 106.2 L398.3 112.7 L398.5 113.5 L398.7 110.6 L398.9 114.8 L399.1 119.5 L399.3 120.7 L399.5 118.0 L399.7 122.4 L399.9 122.0 L400.1 120.9 L400.3 119.2 L400.5 118.4 L400.7 120.9 L400.9 123.3 L401.1 123.7 L401.3 120.5 L401.5 121.5 L401.7 125.5 L401.9 124.0 L402.1 124.5 L402.3 125.2 L402.5 126.5 L402.7 128.4 L402.9 126.9 L403.1 129.1 L403.3 123.4 L403.5 124.8 L403.7 128.4 L403.9 123.1 L404.1 124.2 L404.3 129.9 L404.5 122.3 L404.7 124.4 L404.9 121.9 L405.1 128.5 L405.3 125.0 L405.5 125.3 L405.7 125.7 L405.9 125.8 L406.1 124.0 L406.3 129.2 L406.5 128.7 L406.7 129.0 L406.9 127.3 L407.1 127.4 L407.3 125.5 L407.5 125.7 L407.7 126.2 L407.9 127.6 L408.1 127.2 L408.3 124.5 L408.5 124.8 L408.7 126.2 L408.9 127.0 L409.1 123.4 L409.3 127.6 L409.5 125.2 L409.7 124.2 L409.9 127.0 L410.1 124.9 L410.3 128.7 L410.5 124.5 L410.7 126.1 L410.9 129.6 L411.1 125.3 L411.3 128.3 L411.5 124.1 L411.7 127.9 L411.9 126.9 L412.1 126.1 L412.3 127.3 L412.5 126.2 L412.7 127.8 L412.9 125.4 L413.1 126.7 L413.3 126.3 L413.5 132.0 L413.7 124.6 L413.9 126.7 L414.1 130.2 L414.3 126.6 L414.5 125.9 L414.7 124.7 L414.9 128.8 L415.1 123.8 L415.3 127.0 L415.5 122.1 L415.7 127.0 L415.9 125.4 L416.1 127.4 L416.3 128.8 L416.5 124.6 L416.7 124.9 L416.9 123.7 L417.1 125.0 L417.3 127.7 L417.5 129.8 L417.7 127.8 L417.9 127.9 L418.1 128.1 L418.3 125.4 L418.5 125.9 L418.7 127.1 L418.9 126.2 L419.1 126.8 L419.3 126.1 L419.5 125.0 L419.7 124.6 L419.9 127.8 L420.1 129.4 L420.3 123.7 L420.5 126.2 L420.7 124.3 L420.9 129.6 L421.1 127.0 L421.3 126.2 L421.5 129.1 L421.7 127.2 L421.9 124.6 L422.1 123.8 L422.3 122.7 L422.5 127.6 L422.7 128.7 L422.9 124.6 L423.1 123.7 L423.3 125.1 L423.5 128.2 L423.7 123.7 L423.9 123.6 L424.1 124.1 L424.3 126.2 L424.5 124.4 L424.7 123.3 L424.9 126.2 L425.1 128.9 L425.3 124.1 L425.5 123.7 L425.7 124.6 L425.9 122.7 L426.1 125.8 L426.3 124.7 L426.5 125.1 L426.7 123.1 L426.9 120.8 L427.1 124.8 L427.3 119.6 L427.5 120.7 L427.7 122.3 L427.9 122.7 L428.1 120.0 L428.3 124.2 L428.5 124.0 L428.7 126.0 L428.9 122.6 L429.1 120.6 L429.3 122.4 L429.5 122.7 L429.7 124.0 L429.9 123.2 L430.1 126.7 L430.3 121.3 L430.5 124.5 L430.7 126.0 L430.9 125.3 L431.1 125.4 L431.3 121.7 L431.5 121.3 L431.7 126.6 L431.9 121.6 L432.1 121.6 L432.3 124.9 L432.5 126.9 L432.7 125.2 L432.9 125.0 L433.1 122.8 L433.3 124.4 L433.5 128.1 L433.7 123.1 L433.9 127.0 L434.1 121.7 L434.3 126.6 L434.5 125.8 L434.7 126.4 L434.9 125.9 L435.1 122.2 L435.3 123.4 L435.5 124.2 L435.7 125.1 L435.9 129.1 L436.1 127.3 L436.3 127.8 L436.5 129.2 L436.7 127.3 L436.9 130.0 L437.1 130.5 L437.3 131.3 L437.5 132.4 L437.7 129.5 L437.9 128.8 L438.1 130.3 L438.3 131.7 L438.5 132.4 L438.7 130.7 L438.9 129.9 L439.1 130.9 L439.3 130.5 L439.5 130.2 L439.7 130.5 L439.9 131.8 L440.1 130.6 L440.3 130.9 L440.5 132.4 L440.7 131.8 L440.9 132.4 L441.1 131.6 L441.3 131.1 L441.5 132.3 L441.7 132.4 L441.9 130.7 L442.1 131.3 L442.3 130.6 L442.5 132.4 L442.7 130.9 L442.9 130.3 L443.1 130.3 L443.3 131.8 L443.5 131.5 L443.7 131.8 L443.9 131.1 L444.1 131.1 L444.3 131.7 L444.5 132.4 L444.7 131.4 L444.9 132.1 L445.1 131.5 L445.3 131.7 L445.5 130.9 L445.7 131.2 L445.9 132.2 L446.1 131.7 L446.3 131.0 L446.5 132.2 L446.7 131.8 L446.9 131.4 L447.1 131.4 L447.3 131.7 L447.5 132.4 L447.7 132.4 L447.9 131.9 L448.1 131.8 L448.3 130.8 L448.5 132.4 L448.7 131.5 L448.9 131.7 L449.1 132.4 L449.3 132.4 L449.5 132.0 L449.7 132.3 L449.9 132.2 L450.1 131.9 L450.3 132.4 L450.5 131.9 L450.7 132.4 L450.9 132.4 L451.1 131.9 L451.3 132.4 L451.5 132.0 L451.7 131.5 L451.9 132.1 L452.1 132.2 L452.3 131.9 L452.5 132.3 L452.7 131.8 L452.9 132.4 L453.1 132.0 L453.3 132.4 L453.5 132.4 L453.7 131.6 L453.9 132.4 L454.1 131.6 L454.3 132.0 L454.5 131.8 L454.7 132.4 L454.9 131.9 L455.1 131.8 L455.3 132.3 L455.5 132.3 L455.7 131.6 L455.9 132.2 L456.1 132.4 L456.3 132.4 L456.5 132.2 L456.7 132.2 L456.9 132.3 L457.1 131.9 L457.3 132.4 L457.5 132.2 L457.7 132.0 L457.9 132.4 L458.1 132.1 L458.3 132.0 L458.5 132.4 L458.7 132.4 L458.9 132.4 L459.1 132.4 L459.3 132.3 L459.5 132.4 L459.7 132.3 L459.9 132.2" fill="none" stroke="#000" stroke-width="0.6" stroke-linejoin="round"/>
<line x1="394.5" y1="18.5" x2="394.5" y2="24" stroke="#555" stroke-width="0.7"/>
<rect x="354.4" y="18.5" width="145.0" height="113.9" fill="none" stroke="#767676" stroke-width="1"/>
<line x1="368.6" y1="132.4" x2="368.6" y2="134.6" stroke="#555" stroke-width="0.9"/>
<line x1="382.7" y1="132.4" x2="382.7" y2="134.6" stroke="#555" stroke-width="0.9"/>
<line x1="396.9" y1="132.4" x2="396.9" y2="134.6" stroke="#555" stroke-width="0.9"/>
<line x1="411.1" y1="132.4" x2="411.1" y2="134.6" stroke="#555" stroke-width="0.9"/>
<line x1="425.3" y1="132.4" x2="425.3" y2="134.6" stroke="#555" stroke-width="0.9"/>
<line x1="439.4" y1="132.4" x2="439.4" y2="134.6" stroke="#555" stroke-width="0.9"/>
<line x1="453.6" y1="132.4" x2="453.6" y2="134.6" stroke="#555" stroke-width="0.9"/>
<line x1="467.8" y1="132.4" x2="467.8" y2="134.6" stroke="#555" stroke-width="0.9"/>
<line x1="482.0" y1="132.4" x2="482.0" y2="134.6" stroke="#555" stroke-width="0.9"/>
<line x1="351.59999999999997" y1="74.5" x2="354.4" y2="74.5" stroke="#4a4a4a" stroke-width="1"/>
<line x1="351.59999999999997" y1="132.4" x2="354.4" y2="132.4" stroke="#767676" stroke-width="0.8"/>
<text x="353.8" y="137.4" font-size="5.0" fill="#222" stroke="#222" stroke-width="0.2" class="s">0</text>
<text x="490.4" y="137.6" font-size="5.8" fill="#222" stroke="#222" stroke-width="0.1" textLength="8.3" lengthAdjust="spacingAndGlyphs" class="s">1023</text>
<text transform="translate(346.9 31.4) rotate(-90)" font-size="6.8" fill="#2a2a2a" stroke="#2a2a2a" stroke-width="0.12" textLength="8.0" lengthAdjust="spacingAndGlyphs" class="s">197</text>
<text x="415.8" y="32.9" font-size="11.2" class="s t">Sub G<tspan font-size="7.6" dy="2.3">1</tspan><tspan dy="-2.3">: 7.2±1.4</tspan></text>
<text x="415.8" y="44.2" font-size="11.2" class="s t">G<tspan font-size="7.6" dy="2.7">1</tspan><tspan dy="-2.7">: 62.3±1.5</tspan></text>
<text x="415.8" y="58.2" font-size="11.2" class="s t">S+G<tspan font-size="7.6" dy="2.7">2</tspan><tspan dy="-2.7">M: 30.4±1.5</tspan></text>
<path d="M41.7 258.5 L41.7 258.4 L41.9 257.8 L42.1 258.4 L42.3 256.9 L42.5 258.1 L42.7 257.7 L42.9 257.5 L43.1 257.1 L43.3 257.8 L43.5 257.5 L43.7 257.9 L43.9 257.4 L44.1 258.4 L44.3 257.4 L44.5 258.4 L44.7 257.9 L44.9 256.0 L45.1 257.4 L45.3 258.4 L45.5 257.3 L45.7 258.3 L45.9 258.4 L46.1 258.1 L46.3 256.9 L46.5 257.2 L46.7 257.6 L46.9 258.2 L47.1 258.4 L47.3 256.4 L47.5 257.3 L47.7 258.3 L47.9 258.4 L48.1 258.4 L48.3 255.5 L48.5 258.4 L48.7 257.6 L48.9 257.3 L49.1 257.6 L49.3 257.7 L49.5 258.4 L49.7 258.3 L49.9 256.1 L50.1 258.1 L50.3 256.8 L50.5 258.4 L50.7 257.7 L50.9 257.3 L51.1 256.7 L51.3 258.4 L51.5 257.0 L51.7 257.2 L51.9 258.1 L52.1 257.1 L52.3 258.2 L52.5 258.1 L52.7 257.5 L52.9 258.4 L53.1 257.6 L53.3 258.3 L53.5 258.4 L53.7 257.8 L53.9 256.9 L54.1 257.8 L54.3 256.5 L54.5 258.4 L54.7 258.4 L54.9 256.3 L55.1 257.2 L55.3 256.7 L55.5 258.2 L55.7 256.9 L55.9 257.3 L56.1 257.0 L56.3 257.5 L56.5 256.5 L56.7 258.0 L56.9 258.3 L57.1 258.4 L57.3 256.6 L57.5 258.1 L57.7 258.3 L57.9 258.3 L58.1 257.9 L58.3 258.4 L58.5 257.7 L58.7 258.0 L58.9 257.9 L59.1 258.3 L59.3 257.0 L59.5 256.3 L59.7 254.2 L59.9 252.6 L60.1 251.1 L60.3 255.3 L60.5 250.3 L60.7 247.8 L60.9 239.3 L61.1 239.5 L61.3 232.6 L61.5 223.7 L61.7 213.0 L61.9 199.3 L62.1 192.9 L62.3 179.7 L62.5 179.2 L62.7 175.0 L62.9 156.4 L63.1 154.4 L63.3 150.0 L63.5 147.8 L63.7 144.6 L63.9 151.5 L64.1 144.6 L64.3 152.9 L64.5 150.9 L64.7 160.5 L64.9 173.6 L65.1 175.1 L65.3 171.4 L65.5 182.7 L65.7 192.8 L65.9 201.0 L66.1 207.4 L66.3 212.7 L66.5 216.3 L66.7 219.3 L66.9 219.4 L67.1 225.7 L67.3 224.8 L67.5 227.6 L67.7 230.0 L67.9 233.5 L68.1 237.8 L68.3 239.9 L68.5 242.7 L68.7 246.1 L68.9 245.0 L69.1 246.6 L69.3 241.9 L69.5 244.7 L69.7 247.1 L69.9 250.7 L70.1 247.0 L70.3 248.1 L70.5 249.9 L70.7 250.1 L70.9 252.6 L71.1 246.5 L71.3 248.0 L71.5 242.3 L71.7 248.1 L71.9 248.4 L72.1 245.0 L72.3 248.0 L72.5 248.0 L72.7 249.3 L72.9 249.9 L73.1 245.3 L73.3 246.5 L73.5 245.0 L73.7 249.6 L73.9 248.9 L74.1 251.0 L74.3 246.9 L74.5 252.2 L74.7 247.9 L74.9 246.8 L75.1 246.2 L75.3 251.4 L75.5 247.0 L75.7 251.0 L75.9 251.1 L76.1 252.4 L76.3 247.0 L76.5 246.0 L76.7 251.0 L76.9 251.4 L77.1 250.5 L77.3 244.3 L77.5 247.7 L77.7 251.1 L77.9 253.9 L78.1 251.5 L78.3 247.5 L78.5 246.0 L78.7 250.8 L78.9 251.7 L79.1 251.4 L79.3 254.5 L79.5 248.4 L79.7 252.8 L79.9 248.1 L80.1 254.3 L80.3 253.3 L80.5 249.9 L80.7 252.3 L80.9 248.9 L81.1 250.6 L81.3 253.3 L81.5 249.3 L81.7 248.9 L81.9 255.0 L82.1 246.8 L82.3 249.7 L82.5 249.2 L82.7 255.0 L82.9 252.5 L83.1 251.7 L83.3 248.6 L83.5 254.2 L83.7 252.9 L83.9 255.5 L84.1 251.6 L84.3 250.3 L84.5 254.8 L84.7 252.4 L84.9 250.0 L85.1 247.7 L85.3 249.8 L85.5 251.9 L85.7 253.8 L85.9 253.3 L86.1 252.7 L86.3 251.0 L86.5 251.4 L86.7 247.7 L86.9 250.6 L87.1 253.6 L87.3 247.9 L87.5 249.2 L87.7 251.0 L87.9 252.8 L88.1 255.3 L88.3 253.4 L88.5 249.2 L88.7 252.9 L88.9 254.0 L89.1 250.7 L89.3 250.6 L89.5 249.8 L89.7 249.7 L89.9 248.1 L90.1 252.9 L90.3 249.0 L90.5 253.3 L90.7 249.6 L90.9 250.7 L91.1 250.6 L91.3 249.0 L91.5 251.1 L91.7 248.6 L91.9 249.1 L92.1 250.7 L92.3 252.3 L92.5 252.7 L92.7 252.2 L92.9 251.4 L93.1 251.0 L93.3 244.2 L93.5 249.3 L93.7 248.8 L93.9 252.3 L94.1 251.8 L94.3 250.8 L94.5 249.6 L94.7 252.1 L94.9 246.2 L95.1 250.8 L95.3 247.1 L95.5 254.5 L95.7 249.2 L95.9 248.5 L96.1 248.5 L96.3 247.4 L96.5 248.0 L96.7 248.0 L96.9 252.4 L97.1 249.6 L97.3 253.0 L97.5 246.3 L97.7 246.9 L97.9 247.8 L98.1 249.0 L98.3 248.3 L98.5 242.8 L98.7 242.9 L98.9 246.6 L99.1 243.5 L99.3 249.7 L99.5 250.3 L99.7 247.2 L99.9 248.2 L100.1 247.7 L100.3 246.2 L100.5 240.1 L100.7 248.4 L100.9 246.9 L101.1 246.6 L101.3 247.4 L101.5 245.5 L101.7 243.9 L101.9 250.9 L102.1 248.1 L102.3 249.4 L102.5 248.3 L102.7 252.8 L102.9 253.6 L103.1 255.2 L103.3 249.2 L103.5 250.3 L103.7 250.9 L103.9 256.4 L104.1 252.4 L104.3 253.5 L104.5 255.0 L104.7 254.3 L104.9 251.4 L105.1 252.0 L105.3 253.4 L105.5 252.7 L105.7 254.9 L105.9 254.0 L106.1 254.4 L106.3 253.9 L106.5 255.1 L106.7 255.4 L106.9 255.6 L107.1 256.5 L107.3 253.0 L107.5 255.4 L107.7 255.8 L107.9 253.9 L108.1 255.2 L108.3 258.5 L108.5 256.5 L108.7 256.7 L108.9 256.2 L109.1 256.8 L109.3 257.2 L109.5 258.5 L109.7 258.3 L109.9 257.6 L110.1 257.4 L110.3 258.5 L110.5 258.0 L110.7 258.0 L110.9 257.7 L111.1 257.6 L111.3 258.0 L111.5 258.5 L111.7 257.0 L111.9 256.8 L112.1 257.9 L112.3 257.2 L112.5 257.6 L112.7 257.4 L112.9 257.6 L113.1 258.4 L113.3 257.5 L113.5 257.3 L113.7 258.5 L113.9 256.7 L114.1 256.7 L114.3 256.9 L114.5 256.8 L114.7 257.5 L114.9 258.2 L115.1 258.3 L115.3 258.5 L115.5 257.9 L115.7 258.0 L115.9 257.6 L116.1 258.5 L116.3 256.8 L116.5 256.8 L116.7 258.1 L116.9 257.7 L117.1 257.8 L117.3 257.9 L117.5 258.2 L117.7 258.2 L117.9 258.5 L118.1 258.0 L118.3 258.1 L118.5 258.0 L118.7 258.5 L118.9 258.1 L119.1 258.1 L119.3 257.9 L119.5 258.5 L119.7 258.0 L119.9 257.8 L120.1 257.9 L120.3 258.4 L120.5 258.4 L120.7 258.3 L120.9 257.9 L121.1 257.6 L121.3 258.3 L121.5 258.5 L121.7 258.1 L121.9 258.2 L122.1 258.5 L122.3 258.5 L122.5 258.3 L122.7 258.0 L122.9 258.5 L123.1 258.5 L123.3 258.1 L123.5 258.5 L123.7 258.2 L123.9 258.1 L124.1 258.3 L124.3 258.5 L124.5 258.3 L124.7 258.4 L124.9 258.2 L125.1 258.5 L125.3 257.9 L125.5 258.5 L125.7 258.4 L125.9 258.3 L126.1 258.0 L126.3 258.5 L126.5 258.1 L126.7 258.5 L126.9 258.1 L127.1 257.8 L127.3 258.5 L127.5 258.2 L127.7 258.5 L127.9 258.1 L128.1 258.0 L128.3 258.4 L128.5 258.5 L128.7 258.3 L128.9 258.1 L129.1 258.1 L129.3 258.2 L129.5 258.5 L129.7 258.5 L129.9 258.0 L130.1 258.5 L130.3 258.1 L130.5 258.0 L130.7 258.2 L130.9 258.2 L131.1 258.5 L131.3 258.5 L131.5 258.5 L131.7 258.5 L131.9 258.4 L132.1 258.3 L132.3 258.5 L132.5 258.4 L132.7 258.4 L132.9 258.5 L133.1 258.2 L133.3 258.4 L133.5 258.5 L133.7 258.5 L133.9 258.5 L134.1 258.3 L134.3 258.5 L134.5 258.5 L134.7 258.5 L134.9 258.5 L134.9 258.5 Z" fill="#a3a3a3" stroke="none"/>
<path d="M41.7 258.4 L41.9 257.8 L42.1 258.4 L42.3 256.9 L42.5 258.1 L42.7 257.7 L42.9 257.5 L43.1 257.1 L43.3 257.8 L43.5 257.5 L43.7 257.9 L43.9 257.4 L44.1 258.4 L44.3 257.4 L44.5 258.4 L44.7 257.9 L44.9 256.0 L45.1 257.4 L45.3 258.4 L45.5 257.3 L45.7 258.3 L45.9 258.4 L46.1 258.1 L46.3 256.9 L46.5 257.2 L46.7 257.6 L46.9 258.2 L47.1 258.4 L47.3 256.4 L47.5 257.3 L47.7 258.3 L47.9 258.4 L48.1 258.4 L48.3 255.5 L48.5 258.4 L48.7 257.6 L48.9 257.3 L49.1 257.6 L49.3 257.7 L49.5 258.4 L49.7 258.3 L49.9 256.1 L50.1 258.1 L50.3 256.8 L50.5 258.4 L50.7 257.7 L50.9 257.3 L51.1 256.7 L51.3 258.4 L51.5 257.0 L51.7 257.2 L51.9 258.1 L52.1 257.1 L52.3 258.2 L52.5 258.1 L52.7 257.5 L52.9 258.4 L53.1 257.6 L53.3 258.3 L53.5 258.4 L53.7 257.8 L53.9 256.9 L54.1 257.8 L54.3 256.5 L54.5 258.4 L54.7 258.4 L54.9 256.3 L55.1 257.2 L55.3 256.7 L55.5 258.2 L55.7 256.9 L55.9 257.3 L56.1 257.0 L56.3 257.5 L56.5 256.5 L56.7 258.0 L56.9 258.3 L57.1 258.4 L57.3 256.6 L57.5 258.1 L57.7 258.3 L57.9 258.3 L58.1 257.9 L58.3 258.4 L58.5 257.7 L58.7 258.0 L58.9 257.9 L59.1 258.3 L59.3 257.0 L59.5 256.3 L59.7 254.2 L59.9 252.6 L60.1 251.1 L60.3 255.3 L60.5 250.3 L60.7 247.8 L60.9 239.3 L61.1 239.5 L61.3 232.6 L61.5 223.7 L61.7 213.0 L61.9 199.3 L62.1 192.9 L62.3 179.7 L62.5 179.2 L62.7 175.0 L62.9 156.4 L63.1 154.4 L63.3 150.0 L63.5 147.8 L63.7 144.6 L63.9 151.5 L64.1 144.6 L64.3 152.9 L64.5 150.9 L64.7 160.5 L64.9 173.6 L65.1 175.1 L65.3 171.4 L65.5 182.7 L65.7 192.8 L65.9 201.0 L66.1 207.4 L66.3 212.7 L66.5 216.3 L66.7 219.3 L66.9 219.4 L67.1 225.7 L67.3 224.8 L67.5 227.6 L67.7 230.0 L67.9 233.5 L68.1 237.8 L68.3 239.9 L68.5 242.7 L68.7 246.1 L68.9 245.0 L69.1 246.6 L69.3 241.9 L69.5 244.7 L69.7 247.1 L69.9 250.7 L70.1 247.0 L70.3 248.1 L70.5 249.9 L70.7 250.1 L70.9 252.6 L71.1 246.5 L71.3 248.0 L71.5 242.3 L71.7 248.1 L71.9 248.4 L72.1 245.0 L72.3 248.0 L72.5 248.0 L72.7 249.3 L72.9 249.9 L73.1 245.3 L73.3 246.5 L73.5 245.0 L73.7 249.6 L73.9 248.9 L74.1 251.0 L74.3 246.9 L74.5 252.2 L74.7 247.9 L74.9 246.8 L75.1 246.2 L75.3 251.4 L75.5 247.0 L75.7 251.0 L75.9 251.1 L76.1 252.4 L76.3 247.0 L76.5 246.0 L76.7 251.0 L76.9 251.4 L77.1 250.5 L77.3 244.3 L77.5 247.7 L77.7 251.1 L77.9 253.9 L78.1 251.5 L78.3 247.5 L78.5 246.0 L78.7 250.8 L78.9 251.7 L79.1 251.4 L79.3 254.5 L79.5 248.4 L79.7 252.8 L79.9 248.1 L80.1 254.3 L80.3 253.3 L80.5 249.9 L80.7 252.3 L80.9 248.9 L81.1 250.6 L81.3 253.3 L81.5 249.3 L81.7 248.9 L81.9 255.0 L82.1 246.8 L82.3 249.7 L82.5 249.2 L82.7 255.0 L82.9 252.5 L83.1 251.7 L83.3 248.6 L83.5 254.2 L83.7 252.9 L83.9 255.5 L84.1 251.6 L84.3 250.3 L84.5 254.8 L84.7 252.4 L84.9 250.0 L85.1 247.7 L85.3 249.8 L85.5 251.9 L85.7 253.8 L85.9 253.3 L86.1 252.7 L86.3 251.0 L86.5 251.4 L86.7 247.7 L86.9 250.6 L87.1 253.6 L87.3 247.9 L87.5 249.2 L87.7 251.0 L87.9 252.8 L88.1 255.3 L88.3 253.4 L88.5 249.2 L88.7 252.9 L88.9 254.0 L89.1 250.7 L89.3 250.6 L89.5 249.8 L89.7 249.7 L89.9 248.1 L90.1 252.9 L90.3 249.0 L90.5 253.3 L90.7 249.6 L90.9 250.7 L91.1 250.6 L91.3 249.0 L91.5 251.1 L91.7 248.6 L91.9 249.1 L92.1 250.7 L92.3 252.3 L92.5 252.7 L92.7 252.2 L92.9 251.4 L93.1 251.0 L93.3 244.2 L93.5 249.3 L93.7 248.8 L93.9 252.3 L94.1 251.8 L94.3 250.8 L94.5 249.6 L94.7 252.1 L94.9 246.2 L95.1 250.8 L95.3 247.1 L95.5 254.5 L95.7 249.2 L95.9 248.5 L96.1 248.5 L96.3 247.4 L96.5 248.0 L96.7 248.0 L96.9 252.4 L97.1 249.6 L97.3 253.0 L97.5 246.3 L97.7 246.9 L97.9 247.8 L98.1 249.0 L98.3 248.3 L98.5 242.8 L98.7 242.9 L98.9 246.6 L99.1 243.5 L99.3 249.7 L99.5 250.3 L99.7 247.2 L99.9 248.2 L100.1 247.7 L100.3 246.2 L100.5 240.1 L100.7 248.4 L100.9 246.9 L101.1 246.6 L101.3 247.4 L101.5 245.5 L101.7 243.9 L101.9 250.9 L102.1 248.1 L102.3 249.4 L102.5 248.3 L102.7 252.8 L102.9 253.6 L103.1 255.2 L103.3 249.2 L103.5 250.3 L103.7 250.9 L103.9 256.4 L104.1 252.4 L104.3 253.5 L104.5 255.0 L104.7 254.3 L104.9 251.4 L105.1 252.0 L105.3 253.4 L105.5 252.7 L105.7 254.9 L105.9 254.0 L106.1 254.4 L106.3 253.9 L106.5 255.1 L106.7 255.4 L106.9 255.6 L107.1 256.5 L107.3 253.0 L107.5 255.4 L107.7 255.8 L107.9 253.9 L108.1 255.2 L108.3 258.5 L108.5 256.5 L108.7 256.7 L108.9 256.2 L109.1 256.8 L109.3 257.2 L109.5 258.5 L109.7 258.3 L109.9 257.6 L110.1 257.4 L110.3 258.5 L110.5 258.0 L110.7 258.0 L110.9 257.7 L111.1 257.6 L111.3 258.0 L111.5 258.5 L111.7 257.0 L111.9 256.8 L112.1 257.9 L112.3 257.2 L112.5 257.6 L112.7 257.4 L112.9 257.6 L113.1 258.4 L113.3 257.5 L113.5 257.3 L113.7 258.5 L113.9 256.7 L114.1 256.7 L114.3 256.9 L114.5 256.8 L114.7 257.5 L114.9 258.2 L115.1 258.3 L115.3 258.5 L115.5 257.9 L115.7 258.0 L115.9 257.6 L116.1 258.5 L116.3 256.8 L116.5 256.8 L116.7 258.1 L116.9 257.7 L117.1 257.8 L117.3 257.9 L117.5 258.2 L117.7 258.2 L117.9 258.5 L118.1 258.0 L118.3 258.1 L118.5 258.0 L118.7 258.5 L118.9 258.1 L119.1 258.1 L119.3 257.9 L119.5 258.5 L119.7 258.0 L119.9 257.8 L120.1 257.9 L120.3 258.4 L120.5 258.4 L120.7 258.3 L120.9 257.9 L121.1 257.6 L121.3 258.3 L121.5 258.5 L121.7 258.1 L121.9 258.2 L122.1 258.5 L122.3 258.5 L122.5 258.3 L122.7 258.0 L122.9 258.5 L123.1 258.5 L123.3 258.1 L123.5 258.5 L123.7 258.2 L123.9 258.1 L124.1 258.3 L124.3 258.5 L124.5 258.3 L124.7 258.4 L124.9 258.2 L125.1 258.5 L125.3 257.9 L125.5 258.5 L125.7 258.4 L125.9 258.3 L126.1 258.0 L126.3 258.5 L126.5 258.1 L126.7 258.5 L126.9 258.1 L127.1 257.8 L127.3 258.5 L127.5 258.2 L127.7 258.5 L127.9 258.1 L128.1 258.0 L128.3 258.4 L128.5 258.5 L128.7 258.3 L128.9 258.1 L129.1 258.1 L129.3 258.2 L129.5 258.5 L129.7 258.5 L129.9 258.0 L130.1 258.5 L130.3 258.1 L130.5 258.0 L130.7 258.2 L130.9 258.2 L131.1 258.5 L131.3 258.5 L131.5 258.5 L131.7 258.5 L131.9 258.4 L132.1 258.3 L132.3 258.5 L132.5 258.4 L132.7 258.4 L132.9 258.5 L133.1 258.2 L133.3 258.4 L133.5 258.5 L133.7 258.5 L133.9 258.5 L134.1 258.3 L134.3 258.5 L134.5 258.5 L134.7 258.5 L134.9 258.5" fill="none" stroke="#000" stroke-width="0.6" stroke-linejoin="round"/>
<rect x="27.3" y="144.6" width="144.79999999999998" height="113.9" fill="none" stroke="#767676" stroke-width="1"/>
<line x1="41.5" y1="258.5" x2="41.5" y2="260.7" stroke="#555" stroke-width="0.9"/>
<line x1="55.6" y1="258.5" x2="55.6" y2="260.7" stroke="#555" stroke-width="0.9"/>
<line x1="69.8" y1="258.5" x2="69.8" y2="260.7" stroke="#555" stroke-width="0.9"/>
<line x1="83.9" y1="258.5" x2="83.9" y2="260.7" stroke="#555" stroke-width="0.9"/>
<line x1="98.1" y1="258.5" x2="98.1" y2="260.7" stroke="#555" stroke-width="0.9"/>
<line x1="112.2" y1="258.5" x2="112.2" y2="260.7" stroke="#555" stroke-width="0.9"/>
<line x1="126.4" y1="258.5" x2="126.4" y2="260.7" stroke="#555" stroke-width="0.9"/>
<line x1="140.5" y1="258.5" x2="140.5" y2="260.7" stroke="#555" stroke-width="0.9"/>
<line x1="154.7" y1="258.5" x2="154.7" y2="260.7" stroke="#555" stroke-width="0.9"/>
<line x1="24.5" y1="200.5" x2="27.3" y2="200.5" stroke="#4a4a4a" stroke-width="1"/>
<line x1="24.5" y1="258.5" x2="27.3" y2="258.5" stroke="#767676" stroke-width="0.8"/>
<text x="26.7" y="263.5" font-size="5.0" fill="#222" stroke="#222" stroke-width="0.2" class="s">0</text>
<text x="163.1" y="263.7" font-size="5.8" fill="#222" stroke="#222" stroke-width="0.1" textLength="8.3" lengthAdjust="spacingAndGlyphs" class="s">1023</text>
<text transform="translate(19.8 157.5) rotate(-90)" font-size="6.8" fill="#2a2a2a" stroke="#2a2a2a" stroke-width="0.12" textLength="8.0" lengthAdjust="spacingAndGlyphs" class="s">195</text>
<text x="84.0" y="160.0" font-size="11.2" class="s t">Sub G<tspan font-size="7.6" dy="2.3">1</tspan><tspan dy="-2.3">: 2.8±0.3</tspan></text>
<text x="84.0" y="171.8" font-size="11.2" class="s t">G<tspan font-size="7.6" dy="2.7">1</tspan><tspan dy="-2.7">: 62.3±1.7</tspan></text>
<text x="84.0" y="185.8" font-size="11.2" class="s t">S+G<tspan font-size="7.6" dy="2.7">2</tspan><tspan dy="-2.7">M: 35.7±1.4</tspan></text>
<path d="M201.8 258.5 L201.8 252.4 L202.0 249.2 L202.2 254.0 L202.4 250.5 L202.6 251.2 L202.8 254.0 L203.0 251.4 L203.2 251.7 L203.4 250.4 L203.6 252.5 L203.8 250.9 L204.0 255.0 L204.2 253.8 L204.4 249.8 L204.6 249.3 L204.8 251.5 L205.0 252.8 L205.2 249.2 L205.4 255.9 L205.6 253.2 L205.8 250.1 L206.0 250.1 L206.2 253.7 L206.4 255.5 L206.6 248.4 L206.8 251.2 L207.0 253.4 L207.2 251.4 L207.4 249.6 L207.6 257.0 L207.8 249.1 L208.0 249.9 L208.2 255.9 L208.4 249.9 L208.6 255.3 L208.8 249.1 L209.0 250.7 L209.2 246.7 L209.4 252.8 L209.6 251.5 L209.8 249.3 L210.0 252.9 L210.2 253.0 L210.4 252.3 L210.6 251.7 L210.8 253.8 L211.0 250.5 L211.2 250.4 L211.4 251.3 L211.6 247.9 L211.8 252.2 L212.0 248.7 L212.2 252.7 L212.4 249.9 L212.6 255.6 L212.8 251.1 L213.0 251.9 L213.2 252.5 L213.4 252.8 L213.6 252.2 L213.8 253.0 L214.0 256.1 L214.2 252.8 L214.4 252.7 L214.6 252.6 L214.8 253.7 L215.0 251.8 L215.2 249.8 L215.4 252.0 L215.6 252.5 L215.8 248.6 L216.0 249.4 L216.2 249.5 L216.4 249.1 L216.6 252.2 L216.8 251.8 L217.0 249.1 L217.2 252.7 L217.4 251.8 L217.6 250.7 L217.8 250.7 L218.0 252.1 L218.2 249.4 L218.4 251.9 L218.6 250.0 L218.8 249.2 L219.0 250.1 L219.2 249.9 L219.4 254.0 L219.6 254.3 L219.8 252.8 L220.0 250.5 L220.2 248.3 L220.4 254.1 L220.6 250.9 L220.8 253.3 L221.0 253.0 L221.2 252.1 L221.4 250.0 L221.6 248.7 L221.8 245.2 L222.0 248.7 L222.2 243.2 L222.4 241.4 L222.6 241.1 L222.8 238.0 L223.0 238.1 L223.2 237.1 L223.4 233.4 L223.6 230.4 L223.8 219.1 L224.0 223.1 L224.2 214.9 L224.4 209.6 L224.6 200.8 L224.8 197.5 L225.0 198.4 L225.2 192.3 L225.4 191.1 L225.6 192.8 L225.8 184.0 L226.0 180.0 L226.2 153.3 L226.4 147.8 L226.6 157.5 L226.8 166.6 L227.0 181.6 L227.2 189.6 L227.4 188.2 L227.6 196.7 L227.8 199.0 L228.0 197.7 L228.2 203.9 L228.4 206.6 L228.6 214.8 L228.8 215.9 L229.0 222.7 L229.2 223.0 L229.4 230.6 L229.6 229.8 L229.8 233.9 L230.0 234.8 L230.2 236.7 L230.4 237.9 L230.6 242.8 L230.8 247.1 L231.0 242.1 L231.2 245.0 L231.4 244.6 L231.6 243.4 L231.8 249.4 L232.0 247.4 L232.2 247.8 L232.4 249.5 L232.6 246.9 L232.8 248.3 L233.0 250.1 L233.2 250.7 L233.4 247.1 L233.6 250.6 L233.8 248.2 L234.0 248.8 L234.2 254.2 L234.4 252.7 L234.6 250.6 L234.8 250.0 L235.0 249.1 L235.2 249.2 L235.4 248.9 L235.6 252.1 L235.8 251.9 L236.0 249.9 L236.2 252.6 L236.4 249.7 L236.6 255.2 L236.8 250.8 L237.0 252.6 L237.2 256.3 L237.4 250.7 L237.6 252.1 L237.8 252.8 L238.0 255.0 L238.2 253.9 L238.4 250.2 L238.6 254.6 L238.8 258.5 L239.0 254.7 L239.2 255.3 L239.4 253.4 L239.6 253.9 L239.8 254.8 L240.0 254.7 L240.2 251.3 L240.4 255.9 L240.6 249.6 L240.8 254.2 L241.0 255.3 L241.2 251.8 L241.4 252.3 L241.6 255.2 L241.8 252.0 L242.0 256.7 L242.2 255.0 L242.4 251.3 L242.6 253.9 L242.8 255.8 L243.0 252.5 L243.2 251.8 L243.4 253.5 L243.6 256.7 L243.8 254.1 L244.0 252.8 L244.2 252.2 L244.4 250.3 L244.6 254.0 L244.8 254.4 L245.0 253.7 L245.2 251.5 L245.4 255.3 L245.6 251.4 L245.8 258.5 L246.0 252.3 L246.2 254.9 L246.4 252.9 L246.6 252.5 L246.8 255.7 L247.0 253.8 L247.2 253.2 L247.4 252.6 L247.6 255.3 L247.8 255.4 L248.0 257.0 L248.2 249.1 L248.4 253.9 L248.6 254.0 L248.8 256.2 L249.0 251.9 L249.2 254.5 L249.4 251.0 L249.6 252.0 L249.8 253.5 L250.0 252.2 L250.2 255.5 L250.4 254.1 L250.6 254.5 L250.8 255.7 L251.0 253.4 L251.2 253.7 L251.4 250.8 L251.6 258.5 L251.8 254.6 L252.0 255.1 L252.2 254.2 L252.4 252.6 L252.6 252.6 L252.8 253.3 L253.0 254.2 L253.2 252.4 L253.4 252.7 L253.6 256.7 L253.8 253.8 L254.0 255.8 L254.2 255.4 L254.4 252.9 L254.6 252.9 L254.8 252.7 L255.0 254.5 L255.2 253.2 L255.4 254.5 L255.6 251.9 L255.8 251.2 L256.0 249.0 L256.2 249.8 L256.4 253.9 L256.6 253.1 L256.8 254.0 L257.0 251.4 L257.2 247.8 L257.4 250.3 L257.6 256.2 L257.8 254.1 L258.0 254.1 L258.2 250.1 L258.4 251.1 L258.6 250.3 L258.8 246.9 L259.0 252.5 L259.2 252.4 L259.4 246.1 L259.6 249.5 L259.8 251.8 L260.0 254.5 L260.2 253.3 L260.4 255.3 L260.6 249.7 L260.8 249.7 L261.0 247.6 L261.2 250.1 L261.4 251.2 L261.6 251.3 L261.8 245.5 L262.0 253.5 L262.2 249.2 L262.4 249.5 L262.6 248.1 L262.8 250.3 L263.0 248.3 L263.2 247.6 L263.4 249.6 L263.6 250.4 L263.8 250.1 L264.0 252.1 L264.2 250.7 L264.4 251.2 L264.6 250.3 L264.8 248.1 L265.0 248.5 L265.2 252.5 L265.4 250.6 L265.6 251.6 L265.8 251.2 L266.0 253.1 L266.2 253.2 L266.4 254.9 L266.6 255.8 L266.8 253.7 L267.0 253.7 L267.2 255.0 L267.4 255.6 L267.6 256.2 L267.8 257.3 L268.0 258.5 L268.2 257.0 L268.4 257.6 L268.6 258.1 L268.8 258.4 L269.0 256.8 L269.2 258.5 L269.4 256.5 L269.6 257.3 L269.8 256.1 L270.0 258.3 L270.2 257.8 L270.4 258.1 L270.6 257.7 L270.8 257.9 L271.0 258.3 L271.2 257.1 L271.4 258.3 L271.6 258.2 L271.8 257.5 L272.0 258.2 L272.2 258.1 L272.4 257.7 L272.6 258.1 L272.8 258.5 L273.0 258.0 L273.2 258.0 L273.4 256.9 L273.6 258.5 L273.8 257.4 L274.0 258.4 L274.2 258.2 L274.4 258.2 L274.6 257.8 L274.8 257.5 L275.0 257.0 L275.2 258.4 L275.4 257.3 L275.6 257.5 L275.8 257.6 L276.0 258.4 L276.2 257.5 L276.4 258.1 L276.6 257.9 L276.8 258.2 L277.0 257.7 L277.2 257.5 L277.4 257.5 L277.6 258.2 L277.8 257.6 L278.0 257.4 L278.2 258.5 L278.4 257.4 L278.6 258.5 L278.8 257.9 L279.0 257.9 L279.2 257.5 L279.4 258.0 L279.6 258.4 L279.8 258.5 L280.0 258.5 L280.2 257.9 L280.4 258.3 L280.6 258.5 L280.8 258.0 L281.0 258.5 L281.2 258.4 L281.4 258.4 L281.6 257.5 L281.8 257.6 L282.0 258.3 L282.2 258.5 L282.4 258.1 L282.6 258.2 L282.8 258.1 L283.0 258.0 L283.2 258.4 L283.4 257.9 L283.6 258.0 L283.8 258.2 L284.0 258.4 L284.2 258.5 L284.4 258.0 L284.6 258.5 L284.8 258.4 L285.0 258.5 L285.2 258.5 L285.4 258.1 L285.6 258.3 L285.8 258.3 L286.0 258.0 L286.2 258.5 L286.4 258.4 L286.6 258.2 L286.8 258.1 L287.0 258.5 L287.2 258.1 L287.4 258.3 L287.6 257.9 L287.8 258.0 L288.0 258.2 L288.2 257.7 L288.4 258.4 L288.6 258.5 L288.8 258.5 L289.0 258.5 L289.2 258.4 L289.4 258.5 L289.6 258.4 L289.8 258.3 L290.0 258.1 L290.2 258.5 L290.4 258.1 L290.6 258.5 L290.8 258.4 L291.0 258.5 L291.2 258.5 L291.4 258.5 L291.6 258.1 L291.8 258.3 L292.0 258.5 L292.2 258.3 L292.4 258.4 L292.6 258.5 L292.8 258.5 L293.0 258.5 L293.2 258.5 L293.4 258.5 L293.6 258.5 L293.8 258.3 L294.0 258.3 L294.2 258.5 L294.4 258.5 L294.6 258.5 L294.8 258.4 L295.0 258.5 L295.0 258.5 Z" fill="#a3a3a3" stroke="none"/>
<path d="M201.8 252.4 L202.0 249.2 L202.2 254.0 L202.4 250.5 L202.6 251.2 L202.8 254.0 L203.0 251.4 L203.2 251.7 L203.4 250.4 L203.6 252.5 L203.8 250.9 L204.0 255.0 L204.2 253.8 L204.4 249.8 L204.6 249.3 L204.8 251.5 L205.0 252.8 L205.2 249.2 L205.4 255.9 L205.6 253.2 L205.8 250.1 L206.0 250.1 L206.2 253.7 L206.4 255.5 L206.6 248.4 L206.8 251.2 L207.0 253.4 L207.2 251.4 L207.4 249.6 L207.6 257.0 L207.8 249.1 L208.0 249.9 L208.2 255.9 L208.4 249.9 L208.6 255.3 L208.8 249.1 L209.0 250.7 L209.2 246.7 L209.4 252.8 L209.6 251.5 L209.8 249.3 L210.0 252.9 L210.2 253.0 L210.4 252.3 L210.6 251.7 L210.8 253.8 L211.0 250.5 L211.2 250.4 L211.4 251.3 L211.6 247.9 L211.8 252.2 L212.0 248.7 L212.2 252.7 L212.4 249.9 L212.6 255.6 L212.8 251.1 L213.0 251.9 L213.2 252.5 L213.4 252.8 L213.6 252.2 L213.8 253.0 L214.0 256.1 L214.2 252.8 L214.4 252.7 L214.6 252.6 L214.8 253.7 L215.0 251.8 L215.2 249.8 L215.4 252.0 L215.6 252.5 L215.8 248.6 L216.0 249.4 L216.2 249.5 L216.4 249.1 L216.6 252.2 L216.8 251.8 L217.0 249.1 L217.2 252.7 L217.4 251.8 L217.6 250.7 L217.8 250.7 L218.0 252.1 L218.2 249.4 L218.4 251.9 L218.6 250.0 L218.8 249.2 L219.0 250.1 L219.2 249.9 L219.4 254.0 L219.6 254.3 L219.8 252.8 L220.0 250.5 L220.2 248.3 L220.4 254.1 L220.6 250.9 L220.8 253.3 L221.0 253.0 L221.2 252.1 L221.4 250.0 L221.6 248.7 L221.8 245.2 L222.0 248.7 L222.2 243.2 L222.4 241.4 L222.6 241.1 L222.8 238.0 L223.0 238.1 L223.2 237.1 L223.4 233.4 L223.6 230.4 L223.8 219.1 L224.0 223.1 L224.2 214.9 L224.4 209.6 L224.6 200.8 L224.8 197.5 L225.0 198.4 L225.2 192.3 L225.4 191.1 L225.6 192.8 L225.8 184.0 L226.0 180.0 L226.2 153.3 L226.4 147.8 L226.6 157.5 L226.8 166.6 L227.0 181.6 L227.2 189.6 L227.4 188.2 L227.6 196.7 L227.8 199.0 L228.0 197.7 L228.2 203.9 L228.4 206.6 L228.6 214.8 L228.8 215.9 L229.0 222.7 L229.2 223.0 L229.4 230.6 L229.6 229.8 L229.8 233.9 L230.0 234.8 L230.2 236.7 L230.4 237.9 L230.6 242.8 L230.8 247.1 L231.0 242.1 L231.2 245.0 L231.4 244.6 L231.6 243.4 L231.8 249.4 L232.0 247.4 L232.2 247.8 L232.4 249.5 L232.6 246.9 L232.8 248.3 L233.0 250.1 L233.2 250.7 L233.4 247.1 L233.6 250.6 L233.8 248.2 L234.0 248.8 L234.2 254.2 L234.4 252.7 L234.6 250.6 L234.8 250.0 L235.0 249.1 L235.2 249.2 L235.4 248.9 L235.6 252.1 L235.8 251.9 L236.0 249.9 L236.2 252.6 L236.4 249.7 L236.6 255.2 L236.8 250.8 L237.0 252.6 L237.2 256.3 L237.4 250.7 L237.6 252.1 L237.8 252.8 L238.0 255.0 L238.2 253.9 L238.4 250.2 L238.6 254.6 L238.8 258.5 L239.0 254.7 L239.2 255.3 L239.4 253.4 L239.6 253.9 L239.8 254.8 L240.0 254.7 L240.2 251.3 L240.4 255.9 L240.6 249.6 L240.8 254.2 L241.0 255.3 L241.2 251.8 L241.4 252.3 L241.6 255.2 L241.8 252.0 L242.0 256.7 L242.2 255.0 L242.4 251.3 L242.6 253.9 L242.8 255.8 L243.0 252.5 L243.2 251.8 L243.4 253.5 L243.6 256.7 L243.8 254.1 L244.0 252.8 L244.2 252.2 L244.4 250.3 L244.6 254.0 L244.8 254.4 L245.0 253.7 L245.2 251.5 L245.4 255.3 L245.6 251.4 L245.8 258.5 L246.0 252.3 L246.2 254.9 L246.4 252.9 L246.6 252.5 L246.8 255.7 L247.0 253.8 L247.2 253.2 L247.4 252.6 L247.6 255.3 L247.8 255.4 L248.0 257.0 L248.2 249.1 L248.4 253.9 L248.6 254.0 L248.8 256.2 L249.0 251.9 L249.2 254.5 L249.4 251.0 L249.6 252.0 L249.8 253.5 L250.0 252.2 L250.2 255.5 L250.4 254.1 L250.6 254.5 L250.8 255.7 L251.0 253.4 L251.2 253.7 L251.4 250.8 L251.6 258.5 L251.8 254.6 L252.0 255.1 L252.2 254.2 L252.4 252.6 L252.6 252.6 L252.8 253.3 L253.0 254.2 L253.2 252.4 L253.4 252.7 L253.6 256.7 L253.8 253.8 L254.0 255.8 L254.2 255.4 L254.4 252.9 L254.6 252.9 L254.8 252.7 L255.0 254.5 L255.2 253.2 L255.4 254.5 L255.6 251.9 L255.8 251.2 L256.0 249.0 L256.2 249.8 L256.4 253.9 L256.6 253.1 L256.8 254.0 L257.0 251.4 L257.2 247.8 L257.4 250.3 L257.6 256.2 L257.8 254.1 L258.0 254.1 L258.2 250.1 L258.4 251.1 L258.6 250.3 L258.8 246.9 L259.0 252.5 L259.2 252.4 L259.4 246.1 L259.6 249.5 L259.8 251.8 L260.0 254.5 L260.2 253.3 L260.4 255.3 L260.6 249.7 L260.8 249.7 L261.0 247.6 L261.2 250.1 L261.4 251.2 L261.6 251.3 L261.8 245.5 L262.0 253.5 L262.2 249.2 L262.4 249.5 L262.6 248.1 L262.8 250.3 L263.0 248.3 L263.2 247.6 L263.4 249.6 L263.6 250.4 L263.8 250.1 L264.0 252.1 L264.2 250.7 L264.4 251.2 L264.6 250.3 L264.8 248.1 L265.0 248.5 L265.2 252.5 L265.4 250.6 L265.6 251.6 L265.8 251.2 L266.0 253.1 L266.2 253.2 L266.4 254.9 L266.6 255.8 L266.8 253.7 L267.0 253.7 L267.2 255.0 L267.4 255.6 L267.6 256.2 L267.8 257.3 L268.0 258.5 L268.2 257.0 L268.4 257.6 L268.6 258.1 L268.8 258.4 L269.0 256.8 L269.2 258.5 L269.4 256.5 L269.6 257.3 L269.8 256.1 L270.0 258.3 L270.2 257.8 L270.4 258.1 L270.6 257.7 L270.8 257.9 L271.0 258.3 L271.2 257.1 L271.4 258.3 L271.6 258.2 L271.8 257.5 L272.0 258.2 L272.2 258.1 L272.4 257.7 L272.6 258.1 L272.8 258.5 L273.0 258.0 L273.2 258.0 L273.4 256.9 L273.6 258.5 L273.8 257.4 L274.0 258.4 L274.2 258.2 L274.4 258.2 L274.6 257.8 L274.8 257.5 L275.0 257.0 L275.2 258.4 L275.4 257.3 L275.6 257.5 L275.8 257.6 L276.0 258.4 L276.2 257.5 L276.4 258.1 L276.6 257.9 L276.8 258.2 L277.0 257.7 L277.2 257.5 L277.4 257.5 L277.6 258.2 L277.8 257.6 L278.0 257.4 L278.2 258.5 L278.4 257.4 L278.6 258.5 L278.8 257.9 L279.0 257.9 L279.2 257.5 L279.4 258.0 L279.6 258.4 L279.8 258.5 L280.0 258.5 L280.2 257.9 L280.4 258.3 L280.6 258.5 L280.8 258.0 L281.0 258.5 L281.2 258.4 L281.4 258.4 L281.6 257.5 L281.8 257.6 L282.0 258.3 L282.2 258.5 L282.4 258.1 L282.6 258.2 L282.8 258.1 L283.0 258.0 L283.2 258.4 L283.4 257.9 L283.6 258.0 L283.8 258.2 L284.0 258.4 L284.2 258.5 L284.4 258.0 L284.6 258.5 L284.8 258.4 L285.0 258.5 L285.2 258.5 L285.4 258.1 L285.6 258.3 L285.8 258.3 L286.0 258.0 L286.2 258.5 L286.4 258.4 L286.6 258.2 L286.8 258.1 L287.0 258.5 L287.2 258.1 L287.4 258.3 L287.6 257.9 L287.8 258.0 L288.0 258.2 L288.2 257.7 L288.4 258.4 L288.6 258.5 L288.8 258.5 L289.0 258.5 L289.2 258.4 L289.4 258.5 L289.6 258.4 L289.8 258.3 L290.0 258.1 L290.2 258.5 L290.4 258.1 L290.6 258.5 L290.8 258.4 L291.0 258.5 L291.2 258.5 L291.4 258.5 L291.6 258.1 L291.8 258.3 L292.0 258.5 L292.2 258.3 L292.4 258.4 L292.6 258.5 L292.8 258.5 L293.0 258.5 L293.2 258.5 L293.4 258.5 L293.6 258.5 L293.8 258.3 L294.0 258.3 L294.2 258.5 L294.4 258.5 L294.6 258.5 L294.8 258.4 L295.0 258.5" fill="none" stroke="#000" stroke-width="0.6" stroke-linejoin="round"/>
<line x1="226.4" y1="144.6" x2="226.4" y2="155" stroke="#555" stroke-width="0.7"/>
<rect x="188.3" y="144.6" width="144.89999999999998" height="113.9" fill="none" stroke="#767676" stroke-width="1"/>
<line x1="202.5" y1="258.5" x2="202.5" y2="260.7" stroke="#555" stroke-width="0.9"/>
<line x1="216.6" y1="258.5" x2="216.6" y2="260.7" stroke="#555" stroke-width="0.9"/>
<line x1="230.8" y1="258.5" x2="230.8" y2="260.7" stroke="#555" stroke-width="0.9"/>
<line x1="245.0" y1="258.5" x2="245.0" y2="260.7" stroke="#555" stroke-width="0.9"/>
<line x1="259.1" y1="258.5" x2="259.1" y2="260.7" stroke="#555" stroke-width="0.9"/>
<line x1="273.3" y1="258.5" x2="273.3" y2="260.7" stroke="#555" stroke-width="0.9"/>
<line x1="287.4" y1="258.5" x2="287.4" y2="260.7" stroke="#555" stroke-width="0.9"/>
<line x1="301.6" y1="258.5" x2="301.6" y2="260.7" stroke="#555" stroke-width="0.9"/>
<line x1="315.8" y1="258.5" x2="315.8" y2="260.7" stroke="#555" stroke-width="0.9"/>
<line x1="185.5" y1="198.5" x2="188.3" y2="198.5" stroke="#4a4a4a" stroke-width="1"/>
<line x1="185.5" y1="258.5" x2="188.3" y2="258.5" stroke="#767676" stroke-width="0.8"/>
<text x="187.7" y="263.5" font-size="5.0" fill="#222" stroke="#222" stroke-width="0.2" class="s">0</text>
<text x="324.2" y="263.7" font-size="5.8" fill="#222" stroke="#222" stroke-width="0.1" textLength="8.3" lengthAdjust="spacingAndGlyphs" class="s">1023</text>
<text transform="translate(180.8 157.2) rotate(-90)" font-size="6.8" fill="#2a2a2a" stroke="#2a2a2a" stroke-width="0.12" textLength="7.5" lengthAdjust="spacingAndGlyphs" class="s">191</text>
<text x="249.5" y="160.0" font-size="11.2" class="s t">Sub G<tspan font-size="7.6" dy="2.3">1</tspan><tspan dy="-2.3">: 6.6±1.1</tspan></text>
<text x="249.5" y="171.8" font-size="11.2" class="s t">G<tspan font-size="7.6" dy="2.7">1</tspan><tspan dy="-2.7">: 59.3±2.9</tspan></text>
<text x="249.5" y="185.8" font-size="11.2" class="s t">S+G<tspan font-size="7.6" dy="2.7">2</tspan><tspan dy="-2.7">M: 31.9±1.5</tspan></text>
<path d="M367.2 257.5 L367.2 251.7 L367.4 249.8 L367.6 250.9 L367.8 249.4 L368.0 251.3 L368.2 253.5 L368.4 250.4 L368.6 248.9 L368.8 252.8 L369.0 250.7 L369.2 248.7 L369.4 251.3 L369.6 251.8 L369.8 246.3 L370.0 248.8 L370.2 248.4 L370.4 252.5 L370.6 247.1 L370.8 253.9 L371.0 251.6 L371.2 249.0 L371.4 247.8 L371.6 252.4 L371.8 251.9 L372.0 250.1 L372.2 254.5 L372.4 249.2 L372.6 249.3 L372.8 251.4 L373.0 249.4 L373.2 248.9 L373.4 249.9 L373.6 249.4 L373.8 247.4 L374.0 251.5 L374.2 250.2 L374.4 251.6 L374.6 248.4 L374.8 251.3 L375.0 249.5 L375.2 250.2 L375.4 250.4 L375.6 247.0 L375.8 250.7 L376.0 247.6 L376.2 248.8 L376.4 247.8 L376.6 250.8 L376.8 248.6 L377.0 249.0 L377.2 251.8 L377.4 249.9 L377.6 250.8 L377.8 250.6 L378.0 247.8 L378.2 252.0 L378.4 253.9 L378.6 254.1 L378.8 251.4 L379.0 251.8 L379.2 250.5 L379.4 249.3 L379.6 246.9 L379.8 249.9 L380.0 249.6 L380.2 252.0 L380.4 249.3 L380.6 247.7 L380.8 247.8 L381.0 254.5 L381.2 248.7 L381.4 247.3 L381.6 248.8 L381.8 253.6 L382.0 251.1 L382.2 249.3 L382.4 249.7 L382.6 252.2 L382.8 252.3 L383.0 248.5 L383.2 253.2 L383.4 247.6 L383.6 250.5 L383.8 249.9 L384.0 253.2 L384.2 251.7 L384.4 249.1 L384.6 253.5 L384.8 246.3 L385.0 253.4 L385.2 253.0 L385.4 250.4 L385.6 249.5 L385.8 249.0 L386.0 251.3 L386.2 250.9 L386.4 251.0 L386.6 251.7 L386.8 255.7 L387.0 248.5 L387.2 250.0 L387.4 247.5 L387.6 245.7 L387.8 240.5 L388.0 237.6 L388.2 234.4 L388.4 223.8 L388.6 216.9 L388.8 200.0 L389.0 179.7 L389.2 175.3 L389.4 167.2 L389.6 173.7 L389.8 168.1 L390.0 167.8 L390.2 152.4 L390.4 153.0 L390.6 152.7 L390.8 143.9 L391.0 145.4 L391.2 152.4 L391.4 161.4 L391.6 171.8 L391.8 173.0 L392.0 174.5 L392.2 180.2 L392.4 192.0 L392.6 198.3 L392.8 204.3 L393.0 218.4 L393.2 216.9 L393.4 228.6 L393.6 224.5 L393.8 231.6 L394.0 233.2 L394.2 236.2 L394.4 238.8 L394.6 242.2 L394.8 242.3 L395.0 240.8 L395.2 243.1 L395.4 246.6 L395.6 247.3 L395.8 248.0 L396.0 249.4 L396.2 243.4 L396.4 246.2 L396.6 247.7 L396.8 249.3 L397.0 250.8 L397.2 246.2 L397.4 247.7 L397.6 251.5 L397.8 247.4 L398.0 251.9 L398.2 248.2 L398.4 251.6 L398.6 250.5 L398.8 248.6 L399.0 248.7 L399.2 247.5 L399.4 251.4 L399.6 246.4 L399.8 246.9 L400.0 249.8 L400.2 248.8 L400.4 251.4 L400.6 250.1 L400.8 252.6 L401.0 249.6 L401.2 249.4 L401.4 247.0 L401.6 247.9 L401.8 248.2 L402.0 250.7 L402.2 250.4 L402.4 250.7 L402.6 249.5 L402.8 254.1 L403.0 248.4 L403.2 253.3 L403.4 251.1 L403.6 250.0 L403.8 251.2 L404.0 246.6 L404.2 250.3 L404.4 246.9 L404.6 247.7 L404.8 251.2 L405.0 249.4 L405.2 247.5 L405.4 250.9 L405.6 250.1 L405.8 251.4 L406.0 250.2 L406.2 251.1 L406.4 250.2 L406.6 248.3 L406.8 247.5 L407.0 250.1 L407.2 250.0 L407.4 248.7 L407.6 251.1 L407.8 252.6 L408.0 248.2 L408.2 252.4 L408.4 248.6 L408.6 252.5 L408.8 246.8 L409.0 252.6 L409.2 248.8 L409.4 247.5 L409.6 252.5 L409.8 247.5 L410.0 252.2 L410.2 254.1 L410.4 249.0 L410.6 249.1 L410.8 250.9 L411.0 255.6 L411.2 250.6 L411.4 251.1 L411.6 251.3 L411.8 251.1 L412.0 254.1 L412.2 251.7 L412.4 246.8 L412.6 247.4 L412.8 251.2 L413.0 251.9 L413.2 249.7 L413.4 248.3 L413.6 249.0 L413.8 252.9 L414.0 250.2 L414.2 250.2 L414.4 247.6 L414.6 248.1 L414.8 249.4 L415.0 248.0 L415.2 251.3 L415.4 247.4 L415.6 251.4 L415.8 249.7 L416.0 248.6 L416.2 252.4 L416.4 251.9 L416.6 254.1 L416.8 250.2 L417.0 250.6 L417.2 251.2 L417.4 249.5 L417.6 254.8 L417.8 250.5 L418.0 250.3 L418.2 251.0 L418.4 248.9 L418.6 246.9 L418.8 251.4 L419.0 252.4 L419.2 251.7 L419.4 250.3 L419.6 249.3 L419.8 252.2 L420.0 248.5 L420.2 252.6 L420.4 248.8 L420.6 249.6 L420.8 249.6 L421.0 246.1 L421.2 250.9 L421.4 250.6 L421.6 249.2 L421.8 248.3 L422.0 252.8 L422.2 249.3 L422.4 251.4 L422.6 248.4 L422.8 246.7 L423.0 249.4 L423.2 249.6 L423.4 248.9 L423.6 255.4 L423.8 247.5 L424.0 247.8 L424.2 248.6 L424.4 249.7 L424.6 250.3 L424.8 249.0 L425.0 246.0 L425.2 248.7 L425.4 245.6 L425.6 253.7 L425.8 249.2 L426.0 247.6 L426.2 248.1 L426.4 251.5 L426.6 249.3 L426.8 245.2 L427.0 250.4 L427.2 249.7 L427.4 249.9 L427.6 248.7 L427.8 246.3 L428.0 246.5 L428.2 252.2 L428.4 244.9 L428.6 249.4 L428.8 249.5 L429.0 244.8 L429.2 248.6 L429.4 251.3 L429.6 250.5 L429.8 251.1 L430.0 252.1 L430.2 251.0 L430.4 249.0 L430.6 250.5 L430.8 254.2 L431.0 247.0 L431.2 254.1 L431.4 252.5 L431.6 252.9 L431.8 252.1 L432.0 254.2 L432.2 253.3 L432.4 251.5 L432.6 254.5 L432.8 256.3 L433.0 254.9 L433.2 256.4 L433.4 256.1 L433.6 255.8 L433.8 256.0 L434.0 256.7 L434.2 256.2 L434.4 257.0 L434.6 257.5 L434.8 256.4 L435.0 257.1 L435.2 256.2 L435.4 257.3 L435.6 256.6 L435.8 256.8 L436.0 257.5 L436.2 257.5 L436.4 257.5 L436.6 256.2 L436.8 257.5 L437.0 256.5 L437.2 256.5 L437.4 256.8 L437.6 256.7 L437.8 257.3 L438.0 257.1 L438.2 257.0 L438.4 256.9 L438.6 256.8 L438.8 257.2 L439.0 257.5 L439.2 257.4 L439.4 256.9 L439.6 257.5 L439.8 257.5 L440.0 257.3 L440.2 257.4 L440.4 257.3 L440.6 257.5 L440.8 257.3 L441.0 257.3 L441.2 256.9 L441.4 257.5 L441.6 257.4 L441.8 257.1 L442.0 257.1 L442.2 256.8 L442.4 256.9 L442.6 257.5 L442.8 257.1 L443.0 257.4 L443.2 257.5 L443.4 256.8 L443.6 257.5 L443.8 257.5 L444.0 257.5 L444.2 257.5 L444.4 257.1 L444.6 257.3 L444.8 257.0 L445.0 257.3 L445.2 257.5 L445.4 257.2 L445.6 257.5 L445.8 257.5 L446.0 257.4 L446.2 257.4 L446.4 257.1 L446.6 257.5 L446.8 257.3 L447.0 257.4 L447.2 257.5 L447.4 257.5 L447.6 257.5 L447.8 257.3 L448.0 257.4 L448.2 257.3 L448.4 257.4 L448.6 257.5 L448.8 257.3 L449.0 257.5 L449.2 257.5 L449.4 257.5 L449.6 257.5 L449.8 257.5 L450.0 257.5 L450.2 257.5 L450.4 257.4 L450.6 257.5 L450.8 257.5 L451.0 257.5 L451.2 257.4 L451.4 257.5 L451.6 257.4 L451.8 257.5 L452.0 257.5 L452.2 257.4 L452.4 257.5 L452.6 257.5 L452.8 257.4 L453.0 257.4 L453.2 257.5 L453.4 257.4 L453.6 257.4 L453.8 257.5 L454.0 257.3 L454.2 257.5 L454.4 257.5 L454.6 257.5 L454.8 257.4 L455.0 257.5 L455.2 257.3 L455.4 257.4 L455.6 257.5 L455.8 257.5 L456.0 257.4 L456.2 257.5 L456.4 257.4 L456.6 257.4 L456.8 257.5 L457.0 257.5 L457.2 257.5 L457.4 257.5 L457.6 257.5 L457.8 257.5 L458.0 257.4 L458.2 257.5 L458.4 257.5 L458.6 257.5 L458.8 257.5 L459.0 257.5 L459.2 257.5 L459.4 257.3 L459.6 257.4 L459.8 257.4 L460.0 257.4 L460.0 257.5 Z" fill="#a3a3a3" stroke="none"/>
<path d="M367.2 251.7 L367.4 249.8 L367.6 250.9 L367.8 249.4 L368.0 251.3 L368.2 253.5 L368.4 250.4 L368.6 248.9 L368.8 252.8 L369.0 250.7 L369.2 248.7 L369.4 251.3 L369.6 251.8 L369.8 246.3 L370.0 248.8 L370.2 248.4 L370.4 252.5 L370.6 247.1 L370.8 253.9 L371.0 251.6 L371.2 249.0 L371.4 247.8 L371.6 252.4 L371.8 251.9 L372.0 250.1 L372.2 254.5 L372.4 249.2 L372.6 249.3 L372.8 251.4 L373.0 249.4 L373.2 248.9 L373.4 249.9 L373.6 249.4 L373.8 247.4 L374.0 251.5 L374.2 250.2 L374.4 251.6 L374.6 248.4 L374.8 251.3 L375.0 249.5 L375.2 250.2 L375.4 250.4 L375.6 247.0 L375.8 250.7 L376.0 247.6 L376.2 248.8 L376.4 247.8 L376.6 250.8 L376.8 248.6 L377.0 249.0 L377.2 251.8 L377.4 249.9 L377.6 250.8 L377.8 250.6 L378.0 247.8 L378.2 252.0 L378.4 253.9 L378.6 254.1 L378.8 251.4 L379.0 251.8 L379.2 250.5 L379.4 249.3 L379.6 246.9 L379.8 249.9 L380.0 249.6 L380.2 252.0 L380.4 249.3 L380.6 247.7 L380.8 247.8 L381.0 254.5 L381.2 248.7 L381.4 247.3 L381.6 248.8 L381.8 253.6 L382.0 251.1 L382.2 249.3 L382.4 249.7 L382.6 252.2 L382.8 252.3 L383.0 248.5 L383.2 253.2 L383.4 247.6 L383.6 250.5 L383.8 249.9 L384.0 253.2 L384.2 251.7 L384.4 249.1 L384.6 253.5 L384.8 246.3 L385.0 253.4 L385.2 253.0 L385.4 250.4 L385.6 249.5 L385.8 249.0 L386.0 251.3 L386.2 250.9 L386.4 251.0 L386.6 251.7 L386.8 255.7 L387.0 248.5 L387.2 250.0 L387.4 247.5 L387.6 245.7 L387.8 240.5 L388.0 237.6 L388.2 234.4 L388.4 223.8 L388.6 216.9 L388.8 200.0 L389.0 179.7 L389.2 175.3 L389.4 167.2 L389.6 173.7 L389.8 168.1 L390.0 167.8 L390.2 152.4 L390.4 153.0 L390.6 152.7 L390.8 143.9 L391.0 145.4 L391.2 152.4 L391.4 161.4 L391.6 171.8 L391.8 173.0 L392.0 174.5 L392.2 180.2 L392.4 192.0 L392.6 198.3 L392.8 204.3 L393.0 218.4 L393.2 216.9 L393.4 228.6 L393.6 224.5 L393.8 231.6 L394.0 233.2 L394.2 236.2 L394.4 238.8 L394.6 242.2 L394.8 242.3 L395.0 240.8 L395.2 243.1 L395.4 246.6 L395.6 247.3 L395.8 248.0 L396.0 249.4 L396.2 243.4 L396.4 246.2 L396.6 247.7 L396.8 249.3 L397.0 250.8 L397.2 246.2 L397.4 247.7 L397.6 251.5 L397.8 247.4 L398.0 251.9 L398.2 248.2 L398.4 251.6 L398.6 250.5 L398.8 248.6 L399.0 248.7 L399.2 247.5 L399.4 251.4 L399.6 246.4 L399.8 246.9 L400.0 249.8 L400.2 248.8 L400.4 251.4 L400.6 250.1 L400.8 252.6 L401.0 249.6 L401.2 249.4 L401.4 247.0 L401.6 247.9 L401.8 248.2 L402.0 250.7 L402.2 250.4 L402.4 250.7 L402.6 249.5 L402.8 254.1 L403.0 248.4 L403.2 253.3 L403.4 251.1 L403.6 250.0 L403.8 251.2 L404.0 246.6 L404.2 250.3 L404.4 246.9 L404.6 247.7 L404.8 251.2 L405.0 249.4 L405.2 247.5 L405.4 250.9 L405.6 250.1 L405.8 251.4 L406.0 250.2 L406.2 251.1 L406.4 250.2 L406.6 248.3 L406.8 247.5 L407.0 250.1 L407.2 250.0 L407.4 248.7 L407.6 251.1 L407.8 252.6 L408.0 248.2 L408.2 252.4 L408.4 248.6 L408.6 252.5 L408.8 246.8 L409.0 252.6 L409.2 248.8 L409.4 247.5 L409.6 252.5 L409.8 247.5 L410.0 252.2 L410.2 254.1 L410.4 249.0 L410.6 249.1 L410.8 250.9 L411.0 255.6 L411.2 250.6 L411.4 251.1 L411.6 251.3 L411.8 251.1 L412.0 254.1 L412.2 251.7 L412.4 246.8 L412.6 247.4 L412.8 251.2 L413.0 251.9 L413.2 249.7 L413.4 248.3 L413.6 249.0 L413.8 252.9 L414.0 250.2 L414.2 250.2 L414.4 247.6 L414.6 248.1 L414.8 249.4 L415.0 248.0 L415.2 251.3 L415.4 247.4 L415.6 251.4 L415.8 249.7 L416.0 248.6 L416.2 252.4 L416.4 251.9 L416.6 254.1 L416.8 250.2 L417.0 250.6 L417.2 251.2 L417.4 249.5 L417.6 254.8 L417.8 250.5 L418.0 250.3 L418.2 251.0 L418.4 248.9 L418.6 246.9 L418.8 251.4 L419.0 252.4 L419.2 251.7 L419.4 250.3 L419.6 249.3 L419.8 252.2 L420.0 248.5 L420.2 252.6 L420.4 248.8 L420.6 249.6 L420.8 249.6 L421.0 246.1 L421.2 250.9 L421.4 250.6 L421.6 249.2 L421.8 248.3 L422.0 252.8 L422.2 249.3 L422.4 251.4 L422.6 248.4 L422.8 246.7 L423.0 249.4 L423.2 249.6 L423.4 248.9 L423.6 255.4 L423.8 247.5 L424.0 247.8 L424.2 248.6 L424.4 249.7 L424.6 250.3 L424.8 249.0 L425.0 246.0 L425.2 248.7 L425.4 245.6 L425.6 253.7 L425.8 249.2 L426.0 247.6 L426.2 248.1 L426.4 251.5 L426.6 249.3 L426.8 245.2 L427.0 250.4 L427.2 249.7 L427.4 249.9 L427.6 248.7 L427.8 246.3 L428.0 246.5 L428.2 252.2 L428.4 244.9 L428.6 249.4 L428.8 249.5 L429.0 244.8 L429.2 248.6 L429.4 251.3 L429.6 250.5 L429.8 251.1 L430.0 252.1 L430.2 251.0 L430.4 249.0 L430.6 250.5 L430.8 254.2 L431.0 247.0 L431.2 254.1 L431.4 252.5 L431.6 252.9 L431.8 252.1 L432.0 254.2 L432.2 253.3 L432.4 251.5 L432.6 254.5 L432.8 256.3 L433.0 254.9 L433.2 256.4 L433.4 256.1 L433.6 255.8 L433.8 256.0 L434.0 256.7 L434.2 256.2 L434.4 257.0 L434.6 257.5 L434.8 256.4 L435.0 257.1 L435.2 256.2 L435.4 257.3 L435.6 256.6 L435.8 256.8 L436.0 257.5 L436.2 257.5 L436.4 257.5 L436.6 256.2 L436.8 257.5 L437.0 256.5 L437.2 256.5 L437.4 256.8 L437.6 256.7 L437.8 257.3 L438.0 257.1 L438.2 257.0 L438.4 256.9 L438.6 256.8 L438.8 257.2 L439.0 257.5 L439.2 257.4 L439.4 256.9 L439.6 257.5 L439.8 257.5 L440.0 257.3 L440.2 257.4 L440.4 257.3 L440.6 257.5 L440.8 257.3 L441.0 257.3 L441.2 256.9 L441.4 257.5 L441.6 257.4 L441.8 257.1 L442.0 257.1 L442.2 256.8 L442.4 256.9 L442.6 257.5 L442.8 257.1 L443.0 257.4 L443.2 257.5 L443.4 256.8 L443.6 257.5 L443.8 257.5 L444.0 257.5 L444.2 257.5 L444.4 257.1 L444.6 257.3 L444.8 257.0 L445.0 257.3 L445.2 257.5 L445.4 257.2 L445.6 257.5 L445.8 257.5 L446.0 257.4 L446.2 257.4 L446.4 257.1 L446.6 257.5 L446.8 257.3 L447.0 257.4 L447.2 257.5 L447.4 257.5 L447.6 257.5 L447.8 257.3 L448.0 257.4 L448.2 257.3 L448.4 257.4 L448.6 257.5 L448.8 257.3 L449.0 257.5 L449.2 257.5 L449.4 257.5 L449.6 257.5 L449.8 257.5 L450.0 257.5 L450.2 257.5 L450.4 257.4 L450.6 257.5 L450.8 257.5 L451.0 257.5 L451.2 257.4 L451.4 257.5 L451.6 257.4 L451.8 257.5 L452.0 257.5 L452.2 257.4 L452.4 257.5 L452.6 257.5 L452.8 257.4 L453.0 257.4 L453.2 257.5 L453.4 257.4 L453.6 257.4 L453.8 257.5 L454.0 257.3 L454.2 257.5 L454.4 257.5 L454.6 257.5 L454.8 257.4 L455.0 257.5 L455.2 257.3 L455.4 257.4 L455.6 257.5 L455.8 257.5 L456.0 257.4 L456.2 257.5 L456.4 257.4 L456.6 257.4 L456.8 257.5 L457.0 257.5 L457.2 257.5 L457.4 257.5 L457.6 257.5 L457.8 257.5 L458.0 257.4 L458.2 257.5 L458.4 257.5 L458.6 257.5 L458.8 257.5 L459.0 257.5 L459.2 257.5 L459.4 257.3 L459.6 257.4 L459.8 257.4 L460.0 257.4" fill="none" stroke="#000" stroke-width="0.6" stroke-linejoin="round"/>
<rect x="353.4" y="143.9" width="145.40000000000003" height="113.6" fill="none" stroke="#767676" stroke-width="1"/>
<line x1="367.6" y1="257.5" x2="367.6" y2="259.7" stroke="#555" stroke-width="0.9"/>
<line x1="381.8" y1="257.5" x2="381.8" y2="259.7" stroke="#555" stroke-width="0.9"/>
<line x1="396.0" y1="257.5" x2="396.0" y2="259.7" stroke="#555" stroke-width="0.9"/>
<line x1="410.3" y1="257.5" x2="410.3" y2="259.7" stroke="#555" stroke-width="0.9"/>
<line x1="424.5" y1="257.5" x2="424.5" y2="259.7" stroke="#555" stroke-width="0.9"/>
<line x1="438.7" y1="257.5" x2="438.7" y2="259.7" stroke="#555" stroke-width="0.9"/>
<line x1="452.9" y1="257.5" x2="452.9" y2="259.7" stroke="#555" stroke-width="0.9"/>
<line x1="467.1" y1="257.5" x2="467.1" y2="259.7" stroke="#555" stroke-width="0.9"/>
<line x1="481.3" y1="257.5" x2="481.3" y2="259.7" stroke="#555" stroke-width="0.9"/>
<line x1="350.59999999999997" y1="190.5" x2="353.4" y2="190.5" stroke="#4a4a4a" stroke-width="1"/>
<line x1="350.59999999999997" y1="257.5" x2="353.4" y2="257.5" stroke="#767676" stroke-width="0.8"/>
<text x="352.8" y="262.5" font-size="5.0" fill="#222" stroke="#222" stroke-width="0.2" class="s">0</text>
<text x="489.8" y="262.7" font-size="5.8" fill="#222" stroke="#222" stroke-width="0.1" textLength="8.3" lengthAdjust="spacingAndGlyphs" class="s">1023</text>
<text transform="translate(345.9 156.2) rotate(-90)" font-size="6.8" fill="#2a2a2a" stroke="#2a2a2a" stroke-width="0.12" textLength="6.9" lengthAdjust="spacingAndGlyphs" class="s">171</text>
<text x="414.5" y="160.0" font-size="11.2" class="s t">Sub G<tspan font-size="7.6" dy="2.3">1</tspan><tspan dy="-2.3">: 5.9±0.6</tspan></text>
<text x="414.5" y="171.8" font-size="11.2" class="s t">G<tspan font-size="7.6" dy="2.7">1</tspan><tspan dy="-2.7">: 61.3±1.1</tspan></text>
<text x="414.5" y="185.8" font-size="11.2" class="s t">S+G<tspan font-size="7.6" dy="2.7">2</tspan><tspan dy="-2.7">M: 30.9±1.2</tspan></text>
<text x="38.3" y="75.6" font-size="8" class="s" textLength="21.8" lengthAdjust="spacingAndGlyphs" stroke="#000" stroke-width="0.2">Sub G<tspan font-size="6" dy="2.3">1</tspan></text>
<rect x="37.4" y="80.8" width="23.6" height="1.1" fill="#000"/>
<text x="93.6" y="9.0" font-size="11.6" class="b">(-)</text>
<text x="242.5" y="9.2" font-size="12.3" letter-spacing="0.3" class="b">IGS-2.7</text>
<text x="405.3" y="12.1" font-size="12.2" letter-spacing="0.1" class="b">IGS-3.27</text>
<text x="504.0" y="78.0" font-size="12.5" letter-spacing="0.12" class="b">Control</text>
<text x="504.5" y="204.9" font-size="12.5" letter-spacing="0.12" class="b">FTLD-TDP</text>
<text transform="translate(9.6 135.0) rotate(-90)" font-size="12.4" text-anchor="middle" class="b">Counts</text>
</svg>
</body></html>
